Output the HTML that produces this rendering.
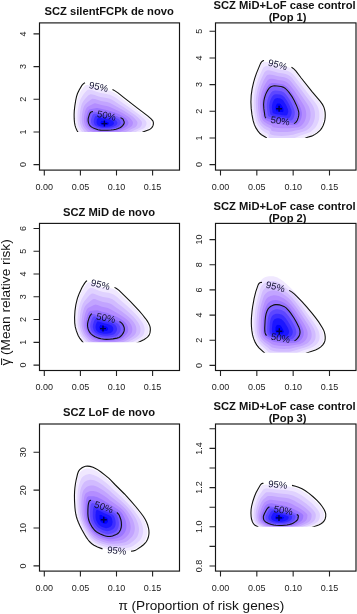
<!DOCTYPE html><html><head><meta charset="utf-8"><style>html,body{margin:0;padding:0;background:#fff;}svg{display:block;filter:blur(0.35px)}</style></head><body><svg width="357" height="614" viewBox="0 0 357 614">
<rect width="357" height="614" fill="#fff"/>
<defs><clipPath id="c0"><rect x="39.5" y="22.9" width="140" height="109"/></clipPath><clipPath id="c1"><rect x="215.5" y="22.9" width="140.5" height="115"/></clipPath><clipPath id="c2"><rect x="39.5" y="223.4" width="140" height="118.9"/></clipPath><clipPath id="c3"><rect x="215.5" y="223.4" width="140.5" height="129.4"/></clipPath><clipPath id="c4"><rect x="39.5" y="424" width="140" height="147.1"/></clipPath><clipPath id="c5"><rect x="215.5" y="424" width="140.5" height="102.8"/></clipPath><filter id="bm" x="-50%" y="-50%" width="200%" height="200%"><feGaussianBlur stdDeviation="0.6"/></filter><filter id="bl" x="-10%" y="-10%" width="120%" height="120%"><feGaussianBlur stdDeviation="0.55"/></filter></defs>
<g clip-path="url(#c0)">
<g filter="url(#bl)">
<path fill="#f0e8ff" d="M112 138.41L108 138.53 103 138.56 99 138.48 96 138.33 93 138.06 90 137.66 87.5 137.2 85.5 136.71 84 136.24 82.5 135.62 81.5 135.01 81 134.58 80.5 134.02 80.08 133.4 78.3 130.4 77.49 128.9 76.64 126.9 76.32 125.9 75.94 124.4 75.49 121.4 75.26 117.9 75.25 114.4 75.42 111.4 75.88 107.4 76.59 102.9 77.22 99.9 77.9 97.4 78.62 95.4 79.5 93.49 81 90.84 83 87.75 84.11 86.4 84.66 85.9 85.5 85.33 86 85.1 86.5 84.98 87 84.96 88 85.09 89.5 85.41 91.5 86.06 96 87.75 98.5 88.57 100.5 89.07 106.5 90.04 109 90.54 111.5 91.3 112.5 91.72 114 92.49 115.5 93.4 117.5 94.8 122.76 98.9 127.5 102.41 136.66 109.4 144.64 115.4 147.1 117.4 148.73 118.9 150.08 120.4 150.7 121.4 150.88 121.9 151.03 122.9 151.02 123.9 150.84 124.9 150.48 125.9 149.92 126.9 149.11 127.9 148.56 128.4 147.81 128.9 146.78 129.4 143 130.81 141.63 131.4 136.5 134.09 134.5 135.04 132.5 135.83 130.59 136.4 128.5 136.86 126 137.29 123.5 137.61 120.5 137.9 116 138.21 112 138.41Z"/>
<path fill="#e0d2ff" d="M114 136.9L110 137.07 106.5 137.15 102 137.15 98.5 137.05 96 136.89 93 136.57 90.5 136.18 88.5 135.76 87 135.36 85.5 134.86 84.45 134.4 83.5 133.8 83.04 133.4 82.5 132.77 79.93 128.9 78.94 126.9 78.27 124.9 77.77 122.4 77.46 119.4 77.39 116.4 77.53 113.4 77.94 109.9 78.59 105.9 79.14 103.4 79.72 101.4 80.5 99.37 81.5 97.42 83 95.11 85.39 91.9 86.5 90.71 87.5 89.99 88 89.74 88.5 89.59 89 89.56 90 89.68 91 89.89 92.5 90.34 96.5 91.8 99 92.62 101 93.12 106.5 94.02 108.5 94.43 110 94.85 111 95.21 113 96.15 114.5 97.03 116.5 98.37 120.68 101.4 126.5 105.43 139 114.47 140.78 115.9 143.64 118.4 145.1 119.9 145.87 120.9 146.16 121.4 146.36 121.9 146.47 122.4 146.51 123.4 146.38 124.4 146.06 125.4 145.83 125.9 145.2 126.9 144.25 127.9 143.53 128.4 142.52 128.9 138.5 130.52 133.91 132.9 131.81 133.9 130 134.61 128.5 135.08 125.5 135.75 122.5 136.2 119 136.57 114 136.9Z"/>
<path fill="#d1bbff" d="M115 135.42L111.5 135.61 107.5 135.73 103 135.75 100 135.69 97.5 135.56 95 135.33 93 135.05 91 134.66 89.5 134.3 88 133.84 86.86 133.4 85.93 132.9 85.28 132.4 84.78 131.9 82.83 129.4 82.12 128.4 81.53 127.4 81.05 126.4 80.35 124.4 79.85 121.9 79.6 119.4 79.56 116.9 79.72 114.4 80.12 111.4 80.75 107.9 81.23 105.9 81.71 104.4 82.35 102.9 83 101.73 84 100.3 85 99.08 87.5 96.33 88.5 95.35 89.06 94.9 89.94 94.4 90.5 94.21 91 94.16 91.5 94.2 92.5 94.38 94 94.79 98 96.19 100.5 96.94 102 97.26 106.5 98.01 109 98.59 110.5 99.1 112 99.8 114.5 101.25 118.56 103.9 123.5 107 135.08 114.9 136.96 116.4 139.62 118.9 140.96 120.4 141.63 121.4 141.84 121.9 141.99 122.9 141.92 123.9 141.65 124.9 141.17 125.9 140.45 126.9 139.94 127.4 139 128.03 138.28 128.4 134.78 129.9 129.93 132.4 128 133.22 126.5 133.73 124 134.35 121.5 134.78 118.5 135.14 115 135.42Z"/>
<path fill="#c2a4ff" d="M115.5 133.94L110.5 134.24 106 134.35 100.5 134.3 97 134.07 95 133.82 93.5 133.56 92 133.22 90.5 132.81 89.33 132.4 88.26 131.9 87.51 131.4 86.95 130.9 84.5 128.16 83.65 126.9 83.13 125.9 82.56 124.4 82.18 122.9 81.86 120.9 81.73 119.4 81.73 117.4 81.95 114.9 82.56 111.4 83.12 108.9 83.59 107.4 84.26 105.9 85 104.76 86 103.64 87.5 102.31 91 99.53 92 98.99 92.5 98.83 93 98.77 94 98.88 95 99.1 99.5 100.57 101 100.99 107 102.1 108.5 102.47 109.5 102.8 110.5 103.21 112 103.94 120.5 108.65 124.5 111.08 131.21 115.4 132.61 116.4 133.69 117.4 136.04 119.9 136.8 120.9 137.1 121.4 137.33 121.9 137.45 122.4 137.48 122.9 137.36 123.9 137.22 124.4 136.79 125.4 136.48 125.9 135.63 126.9 134.97 127.4 134.05 127.9 131.5 129.08 127.5 131.14 126 131.81 124.5 132.37 122.6 132.9 120.5 133.33 118 133.69 115.5 133.94Z"/>
<path fill="#b38dff" d="M108 132.92L102.5 132.94 99 132.8 96 132.43 93.52 131.9 91.5 131.27 90.64 130.9 89.76 130.4 89 129.82 88 128.93 86.48 127.4 85.75 126.4 85.2 125.4 84.78 124.4 84.5 123.5 84.23 122.4 83.98 120.9 83.89 119.9 83.88 118.4 83.99 116.9 84.31 114.9 84.97 111.9 85.39 110.4 85.77 109.4 86.29 108.4 87 107.47 87.5 107.01 89 106.03 93 104 94 103.57 95 103.36 96 103.48 97 103.71 101.5 105.05 106.5 105.99 108.5 106.5 111 107.49 118.5 110.91 122.5 113.09 127.26 115.9 128.8 116.9 129.5 117.46 131.6 119.9 132.61 121.4 132.83 121.9 132.96 122.4 132.98 122.9 132.8 123.9 132.4 124.9 132.11 125.4 131.5 126.19 130.7 126.9 129.86 127.4 125 129.93 123 130.79 121.5 131.32 120 131.72 118 132.12 116 132.41 113.5 132.65 108 132.92Z"/>
<path fill="#9b76ff" d="M110.5 131.41L107 131.53 102 131.52 99.5 131.39 97 131.04 94.5 130.41 92.5 129.65 91 128.77 90 128.06 89 127.23 88.5 126.73 87.83 125.9 87.01 124.4 86.65 123.4 86.38 122.4 86.1 120.9 86.02 119.9 86.04 118.9 86.21 117.4 86.5 115.96 87 114.01 87.68 111.9 88 111.21 88.54 110.4 89 109.93 89.5 109.59 90.5 109.16 91.5 108.9 96.5 107.98 97.5 108 98.5 108.19 102 109.1 107.5 110.22 113.5 112.05 115.5 112.72 118.5 114.02 122 115.78 124.91 117.4 125.66 117.9 126.23 118.4 127.91 120.9 128.37 121.9 128.48 122.4 128.49 122.9 128.4 123.4 128.02 124.4 127.4 125.4 126.99 125.9 126.44 126.4 124.9 127.4 122.5 128.72 120.97 129.4 119 130.11 117 130.63 115 130.99 112.5 131.28 110.5 131.41Z"/>
<path fill="#7c5fff" d="M111.5 129.91L108 130.15 103 130.18 100.5 130.06 98.5 129.77 96.5 129.25 94.5 128.52 92.5 127.55 91.5 126.93 90.82 126.4 89.9 125.4 89.55 124.9 89.03 123.9 88.5 122.29 88.32 121.4 88.21 120.4 88.31 118.9 88.59 117.4 89.53 114.4 89.98 113.4 90.5 112.65 91 112.2 91.5 111.94 92 111.78 93 111.66 94 111.69 98 112.2 98.92 112.4 100.5 112.6 101.66 112.9 103 113.1 104.1 113.4 105.5 113.61 107 113.95 109.5 114.22 112.5 114.67 114.5 115.2 117 116.13 120.5 117.72 121.78 118.4 122.53 118.9 122.95 119.4 123.67 120.9 124.02 121.9 124.1 122.4 124.08 122.9 123.73 123.9 123.12 124.9 122.27 125.9 121.5 126.59 120.25 127.4 119 128.02 117.5 128.61 116 129.09 114 129.57 111.5 129.91Z"/>
<path fill="#5d47ff" d="M109.5 128.92L106.5 129.05 103 129.05 101 128.94 99.5 128.72 97.5 128.17 95.53 127.4 94 126.58 93.07 125.9 92.57 125.4 92.19 124.9 91.64 123.9 91.15 122.4 90.92 120.9 91.04 119.4 91.41 117.9 91.88 116.4 92.26 115.4 92.53 114.9 92.92 114.4 93.5 113.98 94 113.8 95 113.69 96 113.74 100.5 114.39 106.5 115.56 111 116.18 113 116.7 115.5 117.67 118.5 119.08 119.07 119.4 119.69 119.9 120.64 121.9 120.76 122.4 120.77 122.9 120.66 123.4 120.15 124.4 119.36 125.4 118.84 125.9 118.17 126.4 117.31 126.9 116.22 127.4 114.86 127.9 113.5 128.29 112 128.62 109.5 128.92Z"/>
<path fill="#3e2fff" d="M107 127.92L102.5 127.92 100.5 127.69 99 127.28 97.5 126.71 96 125.92 95.32 125.4 94.85 124.9 94.25 123.9 93.77 122.4 93.65 121.4 93.72 120.4 94 119.17 94.57 117.4 94.8 116.9 95.12 116.4 95.5 116.05 96 115.81 96.5 115.72 97.5 115.72 101 116.2 106 117.17 110 117.75 112 118.36 114.45 119.4 116.33 120.4 116.75 120.9 117.4 122.4 117.47 122.9 117.39 123.4 116.86 124.4 116.46 124.9 115.96 125.4 115.5 125.75 115 126.06 114 126.56 113 126.94 111.5 127.39 109.5 127.74 107 127.92Z"/>
<path fill="#1f18ff" d="M109.5 126.43L107.5 126.71 106 126.81 104 126.82 102.5 126.75 100.5 126.36 99.28 125.9 98.32 125.4 97.63 124.9 97.21 124.4 96.72 123.4 96.47 122.4 96.44 121.9 96.54 120.9 97 119.33 97.43 118.4 98 117.89 98.5 117.79 99.5 117.8 101.5 118.07 105 118.76 108 119.19 109.09 119.4 110.5 119.9 112 120.56 113 121.09 113.43 121.4 114 122.65 114.06 122.9 114.03 123.4 113.82 123.9 113.48 124.4 113 124.9 112.31 125.4 111.26 125.9 109.5 126.43Z"/>
<path fill="#0000ff" d="M107 125L105.5 125.19 103.5 125.19 103 125.12 102.22 124.9 101.2 124.4 100.74 123.9 100.52 123.4 100.42 122.9 100.44 122.4 100.56 121.9 100.72 121.4 100.99 120.9 101.5 120.69 102 120.7 106.5 121.44 107.81 121.9 108.8 122.4 109.12 122.9 109.24 123.4 109.01 123.9 108.5 124.41 107.5 124.87 107 125Z"/>
</g>
<path d="M101.4 123.6h6M104.4 120.6v6" stroke="#000050" stroke-width="1.4" filter="url(#bm)"/>
<path fill="none" stroke="#111" stroke-width="1.1" d="M112.5 89.57L115 90.86 118 92.91 123.58 97.4 137.75 108.4 147.64 115.9 151.11 118.9 152.8 120.9 153.23 121.9 153.38 122.9 153.39 123.9 153.07 125.4 152.36 126.9 151.61 127.9 150.46 128.9 149.58 129.4 143.5 131.75 137.47 134.9 134.5 136.2 132.5 136.86 130.26 137.4 124.5 138.28 118 138.83 110.5 139.2 103 139.29 96.5 139.1 91.5 138.66 87 137.94 83.06 136.9 80.83 135.9 80 135.26 79.25 134.4 77 130.42 75.82 127.9 75.02 125.4 74.48 122.4 74.19 118.9 74.11 114.4 74.28 110.9 74.83 105.9 75.7 100.4 76.5 96.69 77.5 93.53 79.19 89.9 81.88 85.4 83.5 83.56 85 82.67M120.5 117.61L122.5 118.74 123.1 119.4 124.19 121.9 124.25 122.9 123.88 123.9 122.89 125.4 121.5 126.72 120 127.64 117.5 128.7 116 129.17 113.5 129.73 111 130.03 107.5 130.22 102.5 130.23 100.5 130.12 98 129.74 94.5 128.6 92.5 127.64 91.33 126.9 90.19 125.9 89.5 124.98 88.93 123.9 88.5 122.66 88.14 120.9 88.19 118.9 88.5 117.32 89.5 114.17 90.15 112.9 91 112.06 92 111.67 93 111.57"/>
</g>
<text x="0" y="0" transform="translate(98.7 86.6) rotate(12)" text-anchor="middle" dy="3.4" font-size="9.6" fill="#101030" class="lab" font-family='"Liberation Sans", sans-serif'>95%</text>
<text x="0" y="0" transform="translate(106.5 115.4) rotate(12)" text-anchor="middle" dy="3.4" font-size="9.6" fill="#101030" class="lab" font-family='"Liberation Sans", sans-serif'>50%</text>
<rect x="39.5" y="22.9" width="140" height="147.2" fill="none" stroke="#151515" stroke-width="1.15"/>
<text x="44.3" y="189.8" text-anchor="middle" font-size="9" fill="#222" font-family='"Liberation Sans", sans-serif'>0.00</text>
<text x="80.4" y="189.8" text-anchor="middle" font-size="9" fill="#222" font-family='"Liberation Sans", sans-serif'>0.05</text>
<text x="116.5" y="189.8" text-anchor="middle" font-size="9" fill="#222" font-family='"Liberation Sans", sans-serif'>0.10</text>
<text x="152.6" y="189.8" text-anchor="middle" font-size="9" fill="#222" font-family='"Liberation Sans", sans-serif'>0.15</text>
<text x="0" y="0" transform="translate(25.6 164.6) rotate(-90)" text-anchor="middle" font-size="9" fill="#222" font-family='"Liberation Sans", sans-serif'>0</text>
<text x="0" y="0" transform="translate(25.6 131.93) rotate(-90)" text-anchor="middle" font-size="9" fill="#222" font-family='"Liberation Sans", sans-serif'>1</text>
<text x="0" y="0" transform="translate(25.6 99.25) rotate(-90)" text-anchor="middle" font-size="9" fill="#222" font-family='"Liberation Sans", sans-serif'>2</text>
<text x="0" y="0" transform="translate(25.6 66.58) rotate(-90)" text-anchor="middle" font-size="9" fill="#222" font-family='"Liberation Sans", sans-serif'>3</text>
<text x="0" y="0" transform="translate(25.6 33.9) rotate(-90)" text-anchor="middle" font-size="9" fill="#222" font-family='"Liberation Sans", sans-serif'>4</text>
<path fill="none" stroke="#222" stroke-width="1.1" d="M44.3 170.1v5.5M80.4 170.1v5.5M116.5 170.1v5.5M152.6 170.1v5.5M39.5 164.6h-6M39.5 131.93h-6M39.5 99.25h-6M39.5 66.58h-6M39.5 33.9h-6"/>
<text x="109.2" y="15.1" text-anchor="middle" font-size="11.2" font-weight="bold" fill="#111" font-family='"Liberation Sans", sans-serif'>SCZ silentFCPk de novo</text>
<g clip-path="url(#c1)">
<g filter="url(#bl)">
<path fill="#f0e8ff" d="M285 143.43L282.5 143.61 280 143.68 278 143.62 275.5 143.42 273 143.07 271 142.66 269 142.03 268 141.51 267.5 140.85 267.4 139.9 267.49 138.4 267.43 137.9 267.23 137.4 267 137.04 266.5 136.56 266 136.19 262.84 134.4 261.5 133.53 260.5 132.67 259 130.98 257.45 128.9 256.51 127.4 255.97 126.4 254.86 123.9 254.35 122.4 253.93 120.9 253.16 117.4 252.49 113.4 251.95 108.9 251.68 104.9 251.61 101.4 251.76 97.4 252.1 93.9 252.62 90.4 253.43 86.4 254.58 81.9 256 77.3 257.61 72.9 259.34 68.9 260.5 66.03 261.3 64.4 261.97 63.4 262.5 62.86 263.15 62.4 264 62.02 264.54 61.9 265.5 61.83 266.5 61.93 267.5 62.11 270 62.83 275 64.61 277.5 65.37 279.5 65.8 285.5 66.69 288 67.23 289.5 67.71 290.5 68.13 291.5 68.66 293 69.72 294.5 71.11 296 72.83 300.18 78.4 304 83.12 311.5 92.66 317.99 100.4 319.57 102.4 320.94 104.4 321.79 105.9 322.44 107.4 323.03 109.4 323.39 110.9 323.56 111.9 323.72 113.4 323.76 114.9 323.69 116.9 323.56 118.4 323.35 119.9 323.03 121.4 322.57 122.9 322 124.37 320.77 126.9 320.17 127.9 319.46 128.9 318.62 129.9 317.5 131.01 316.45 131.9 315 132.97 313.57 133.9 312 134.77 310.47 135.4 307 136.41 305 137.12 303.27 137.9 299 140.1 296.5 141.19 294.5 141.84 291.5 142.51 288.5 143.01 285 143.43Z"/>
<path fill="#e0d2ff" d="M286.5 139.44L284 139.65 281.5 139.77 279.5 139.78 277 139.65 274.5 139.37 272.5 139.02 271 138.65 269.5 138.09 269 137.73 268.82 137.4 268.69 136.9 268.59 134.9 268.5 134.6 268.36 134.4 268 134 267.13 133.4 264.29 131.9 263 131.1 262 130.27 260.68 128.9 259 126.85 257.74 124.9 256.76 122.9 256.07 120.9 255.37 117.9 254.67 113.9 254.14 109.9 253.8 105.9 253.7 102.4 253.81 98.9 254.07 95.9 254.57 92.4 255.38 88.4 256.5 84.14 258 79.53 259.5 75.66 262.09 69.9 263 68.18 263.5 67.51 264 67.02 264.5 66.66 265.5 66.22 266 66.12 267 66.08 268.5 66.27 270.5 66.77 275.5 68.4 278 69.09 279.5 69.38 284.5 70.14 286.5 70.56 288 71 289.03 71.4 290.5 72.17 291.53 72.9 293 74.22 294.5 75.91 298 80.56 303 86.88 308.74 94.4 315.11 102.4 316.5 104.4 317.36 105.9 318.04 107.4 318.52 108.9 319.1 111.4 319.35 113.9 319.28 116.9 319.13 118.4 318.86 119.9 318.5 121.24 318.1 122.4 317.48 123.9 316.74 125.4 316.14 126.4 315.44 127.4 314 129.01 312.5 130.33 311.08 131.4 309.5 132.41 308 133.12 302.32 134.9 300.5 135.61 296.5 137.31 294 138.18 292.5 138.54 290.5 138.91 286.5 139.44Z"/>
<path fill="#d1bbff" d="M281.5 135.9L278.5 135.85 275 135.51 272.5 135.05 271.5 134.78 270.5 134.37 270 133.86 269.76 131.9 269.5 131.45 269 131.06 268.5 130.76 265.5 129.28 264.11 128.4 263 127.45 262 126.49 260.57 124.9 259.5 123.42 258.67 121.9 258.09 120.4 257.7 118.9 256.94 114.9 256.41 111.4 256.02 107.9 255.83 104.9 255.8 101.9 255.95 98.9 256.29 95.9 256.79 92.9 257.71 88.9 258.73 85.4 260 81.8 261.5 78.21 263.85 73.4 264.5 72.29 265 71.65 265.5 71.17 266 70.83 267 70.43 267.5 70.34 268.5 70.32 270 70.52 272 71 276.5 72.32 278 72.69 283.5 73.58 285.5 74 287 74.46 288.09 74.9 289.5 75.69 290.5 76.43 292 77.85 293.72 79.9 296.35 83.4 300.63 88.9 306.15 96.4 311.05 102.9 312.37 104.9 313.19 106.4 313.82 107.9 314.53 110.4 314.73 111.4 314.91 112.9 314.97 114.4 314.95 115.9 314.82 117.4 314.67 118.4 314.46 119.4 314 120.9 313.42 122.4 312.97 123.4 312.44 124.4 311.81 125.4 311.04 126.4 310.12 127.4 309.06 128.4 308 129.27 306.37 130.4 305.5 130.85 304.5 131.24 298.65 132.9 294.5 134.27 293 134.71 291 135.12 288 135.51 284.5 135.79 281.5 135.9Z"/>
<path fill="#c2a4ff" d="M287 131.9L282 132.04 278.5 131.95 276.5 131.77 274.5 131.5 273 131.2 272 130.9 271.5 130.64 271.33 130.4 271 128.97 270.5 128.46 269.5 127.94 267 126.84 266 126.29 264.5 125.2 263 123.91 262 122.88 261 121.59 260.34 120.4 259.96 119.4 259.49 117.4 258.65 112.4 258.2 108.9 257.95 105.9 257.88 103.4 257.96 100.9 258.19 98.4 258.64 95.4 259.28 92.4 260.25 88.9 261.49 85.4 262.75 82.4 263.5 80.85 265 78.06 266 76.39 266.5 75.78 267 75.33 267.5 75.01 268 74.79 268.5 74.64 269.5 74.54 271 74.66 273 75.06 278 76.29 282.5 77.01 284 77.31 285.5 77.73 287 78.33 288 78.88 289 79.58 290.5 80.96 292 82.69 297 89.23 299.33 92.4 307.34 103.9 308.78 106.4 309.23 107.4 309.59 108.4 310.26 110.9 310.54 112.9 310.59 115.4 310.46 116.9 310.29 117.9 310.05 118.9 309.56 120.4 308.71 122.4 308.16 123.4 307.5 124.38 306.22 125.9 304.63 127.4 303.5 128.25 302.28 128.9 301 129.35 299.5 129.73 295.5 130.51 291.5 131.42 289.5 131.71 287 131.9Z"/>
<path fill="#b38dff" d="M292 127.91L290 128.17 288 128.3 285 128.31 281.5 128.21 278.5 128.04 276.5 127.85 274.5 127.57 273 127.21 272.5 126.9 272 125.82 271.5 125.55 268 124.18 266.5 123.34 265 122.33 264 121.53 263 120.51 262.5 119.82 262.02 118.9 261.58 117.4 260.76 112.4 260.28 108.9 260.05 106.4 259.96 103.9 260.03 101.9 260.27 99.4 260.58 97.4 261.1 94.9 261.92 91.9 262.98 88.9 264 86.49 265.32 83.9 267 81.15 267.5 80.46 268 79.9 268.5 79.49 269 79.19 269.5 78.98 270.5 78.78 272 78.79 274 79.09 278 79.9 282 80.52 283.5 80.85 285 81.34 286.5 82.07 287.5 82.74 289 84.07 290.5 85.76 294 90.34 295.86 92.9 298.24 96.4 302.08 102.4 303.58 104.9 304.37 106.4 305.2 108.4 305.79 110.4 306.14 112.4 306.25 114.4 306.17 115.9 305.79 117.9 305.15 119.9 304.73 120.9 304.22 121.9 303.24 123.4 301.98 124.9 300.92 125.9 300.21 126.4 299.5 126.78 298.5 127.14 297 127.46 292 127.91Z"/>
<path fill="#9b76ff" d="M296 124.94L295 125.11 294 125.17 290.5 124.99 287 124.93 277.5 124.04 274.5 123.66 274 123.54 273.5 123.15 273 122.87 271 122.32 269.5 121.81 267 120.69 265.5 119.75 264.57 118.9 264.19 118.4 263.71 117.4 263.46 116.4 262.56 110.4 262.2 107.4 262.07 105.4 262.07 103.4 262.23 101.4 262.51 99.4 263.03 96.9 263.72 94.4 264.5 92.21 265.5 89.93 266.57 87.9 268 85.72 269 84.49 269.5 84.01 270 83.64 271 83.18 272 82.98 273 82.93 274.5 83.02 281.5 84.02 283.5 84.57 285 85.25 286 85.89 287 86.71 288 87.7 289 88.83 292.1 92.9 294.8 96.9 296.3 99.4 298.25 102.9 299.28 104.9 300.21 106.9 300.81 108.4 301.43 110.4 301.75 111.9 301.91 113.4 301.89 114.9 301.57 116.9 300.98 118.9 300.58 119.9 300.09 120.9 299.18 122.4 298.5 123.27 298 123.8 297.5 124.22 297 124.54 296 124.94Z"/>
<path fill="#7c5fff" d="M294 122.54L293 122.78 291.5 122.76 288.5 122.29 285.5 121.91 280 120.94 275 120.42 273 120.13 270.5 119.5 268.5 118.82 267.63 118.4 267 118.01 266.5 117.59 266 116.98 265.71 116.4 265.46 115.4 265.22 113.4 264.61 109.4 264.33 106.9 264.26 105.4 264.28 103.9 264.41 102.4 264.63 100.9 265.04 98.9 265.59 96.9 266.31 94.9 267 93.35 268 91.48 269 89.96 270 88.77 271 87.9 271.5 87.59 272.5 87.18 273.5 86.97 275 86.9 276.5 86.99 280 87.35 281.5 87.64 283 88.14 284.5 88.96 285.5 89.74 286.5 90.7 287.5 91.81 288.5 93.04 291 96.55 292.17 98.4 293.3 100.4 294.31 102.4 295.23 104.4 297.16 109.4 297.6 110.9 297.88 112.4 297.94 113.9 297.77 115.4 297.3 117.4 296.78 118.9 296.08 120.4 295.42 121.4 294.99 121.9 294.5 122.29 294 122.54Z"/>
<path fill="#5d47ff" d="M291 120.4L290 120.47 289 120.37 287 120.05 284.5 119.73 280 118.94 275.5 118.46 274 118.23 271.5 117.58 270 117.02 268.92 116.4 268.39 115.9 268.06 115.4 267.76 114.4 266.97 108.9 266.78 106.9 266.73 105.4 266.77 104.4 267.1 101.9 267.5 100.11 268 98.4 268.58 96.9 269.29 95.4 270.14 93.9 271 92.7 271.74 91.9 272.5 91.29 273 91.01 274 90.69 275 90.57 276 90.57 280 90.96 281.5 91.28 282.5 91.65 283.5 92.2 284 92.56 285.5 93.97 286.5 95.13 287.48 96.4 289.54 99.4 291.24 102.4 292.86 105.9 293.83 108.4 294.34 109.9 294.69 111.4 294.8 112.4 294.77 113.4 294.53 114.9 294.12 116.4 293.53 117.9 292.98 118.9 292.5 119.53 292 119.99 291.5 120.25 291 120.4Z"/>
<path fill="#3e2fff" d="M289 117.96L288.5 118.09 288 118.13 287 118.05 283.5 117.55 280 116.93 276 116.5 275 116.34 273.28 115.9 272 115.46 271 114.91 270.48 114.4 270.2 113.9 270.05 113.4 269.29 107.9 269.21 105.9 269.27 104.9 269.49 103.4 269.81 101.9 270.26 100.4 270.64 99.4 271.35 97.9 272 96.79 272.65 95.9 273.5 95.03 274 94.69 274.5 94.46 275.5 94.24 277 94.24 280 94.56 281 94.79 282 95.17 283.12 95.9 284.5 97.25 285.81 98.9 287.2 100.9 288.66 103.4 289.86 105.9 291.2 109.4 291.47 110.4 291.63 111.4 291.64 112.4 291.5 113.4 291.26 114.4 290.93 115.4 290.48 116.4 290 117.16 289.5 117.67 289 117.96Z"/>
<path fill="#1f18ff" d="M286.5 115.45L286 115.6 285 115.59 282 115.16 279.5 114.72 276 114.3 274 113.72 273.36 113.4 272.78 112.9 272.53 112.4 272.43 111.9 271.94 108.4 271.85 106.9 272 105.18 272.5 103.02 273.13 101.4 274 99.84 274.5 99.2 275 98.71 275.5 98.39 276 98.21 277 98.11 279.5 98.33 280.5 98.53 281 98.71 281.5 98.96 282 99.31 282.5 99.75 283.5 100.87 284.63 102.4 285.87 104.4 286.86 106.4 287.85 108.9 288.25 110.4 288.3 110.9 288.23 111.9 287.85 113.4 287.5 114.24 287.1 114.9 286.5 115.45Z"/>
<path fill="#0000ff" d="M283 111.96L282.5 112.19 282 112.18 279.5 111.79 278 111.62 276.97 111.4 276.5 111.23 275.98 110.9 275.77 110.4 275.5 108.4 275.48 107.9 275.56 106.9 275.8 105.9 276 105.36 276.5 104.4 277 103.8 277.5 103.52 278 103.45 279.5 103.6 280 103.74 280.5 104.02 281 104.48 281.5 105.09 282.06 105.9 282.64 106.9 283.11 107.9 283.64 109.4 283.7 109.9 283.54 110.9 283.36 111.4 283 111.96Z"/>
</g>
<path d="M276.1 108.8h6M279.1 105.8v6" stroke="#000050" stroke-width="1.4" filter="url(#bm)"/>
<path fill="none" stroke="#111" stroke-width="1.1" d="M291.5 67.28L293.81 68.9 296 71.16 301 77.76 312 91.53 320.31 101.4 322.45 104.4 323.53 106.4 324.1 107.9 324.77 110.4 325.12 112.4 325.26 114.9 325.16 117.4 324.87 119.9 324.44 121.9 323.16 125.4 321.54 128.4 320.5 129.83 319.53 130.9 317.2 132.9 315 134.39 313 135.5 311.5 136.11 307.5 137.27 305.81 137.9 299.5 141.2 297.5 142.13 295 143 291.5 143.81 287.5 144.45 283.5 144.86 280 145 277 144.89 274 144.57 271 144.01 269 143.43 267.5 142.65 267 141.79 267.02 138.9 266.5 137.9 265.24 136.9 261.5 134.72 260 133.51 257.82 130.9 255.89 127.9 254.27 124.4 253.08 120.4 251.92 114.4 251.2 108.4 250.9 101.9 251.19 95.4 252.11 88.9 253.58 82.4 254.88 77.9 256.42 73.4 260.32 63.9 261 62.63 262 61.44 263 60.78 264 60.47M266 118.07L265.5 117.51 265.16 116.9 264.88 115.9 263.88 108.9 263.57 104.4 263.91 100.9 264.5 97.99 265.46 94.9 266.5 92.5 267.65 90.4 269 88.48 270.5 87 271.5 86.42 273 85.98 274.5 85.87 277 86.03 281 86.52 283 87.1 285 88.2 287 90.01 289.4 92.9 292.17 96.9 294.19 100.4 296.31 104.9 297.86 108.9 298.7 111.9 298.86 113.4 298.72 115.4 298.29 117.4 297.4 119.9 296.26 121.9 295.24 122.9 293.89 123.4"/>
</g>
<text x="0" y="0" transform="translate(277.7 64.6) rotate(14)" text-anchor="middle" dy="3.4" font-size="9.6" fill="#101030" class="lab" font-family='"Liberation Sans", sans-serif'>95%</text>
<text x="0" y="0" transform="translate(280.1 120.7) rotate(8)" text-anchor="middle" dy="3.4" font-size="9.6" fill="#101030" class="lab" font-family='"Liberation Sans", sans-serif'>50%</text>
<rect x="215.5" y="22.9" width="140.5" height="147.2" fill="none" stroke="#151515" stroke-width="1.15"/>
<text x="220.5" y="189.8" text-anchor="middle" font-size="9" fill="#222" font-family='"Liberation Sans", sans-serif'>0.00</text>
<text x="256.83" y="189.8" text-anchor="middle" font-size="9" fill="#222" font-family='"Liberation Sans", sans-serif'>0.05</text>
<text x="293.16" y="189.8" text-anchor="middle" font-size="9" fill="#222" font-family='"Liberation Sans", sans-serif'>0.10</text>
<text x="329.49" y="189.8" text-anchor="middle" font-size="9" fill="#222" font-family='"Liberation Sans", sans-serif'>0.15</text>
<text x="0" y="0" transform="translate(201.6 164.6) rotate(-90)" text-anchor="middle" font-size="9" fill="#222" font-family='"Liberation Sans", sans-serif'>0</text>
<text x="0" y="0" transform="translate(201.6 137.94) rotate(-90)" text-anchor="middle" font-size="9" fill="#222" font-family='"Liberation Sans", sans-serif'>1</text>
<text x="0" y="0" transform="translate(201.6 111.28) rotate(-90)" text-anchor="middle" font-size="9" fill="#222" font-family='"Liberation Sans", sans-serif'>2</text>
<text x="0" y="0" transform="translate(201.6 84.62) rotate(-90)" text-anchor="middle" font-size="9" fill="#222" font-family='"Liberation Sans", sans-serif'>3</text>
<text x="0" y="0" transform="translate(201.6 57.96) rotate(-90)" text-anchor="middle" font-size="9" fill="#222" font-family='"Liberation Sans", sans-serif'>4</text>
<text x="0" y="0" transform="translate(201.6 31.3) rotate(-90)" text-anchor="middle" font-size="9" fill="#222" font-family='"Liberation Sans", sans-serif'>5</text>
<path fill="none" stroke="#222" stroke-width="1.1" d="M220.5 170.1v5.5M256.83 170.1v5.5M293.16 170.1v5.5M329.49 170.1v5.5M215.5 164.6h-6M215.5 137.94h-6M215.5 111.28h-6M215.5 84.62h-6M215.5 57.96h-6M215.5 31.3h-6"/>
<text x="284.6" y="9" text-anchor="middle" font-size="11.2" font-weight="bold" fill="#111" font-family='"Liberation Sans", sans-serif'>SCZ MiD+LoF case control</text>
<text x="287.6" y="21.1" text-anchor="middle" font-size="11.2" font-weight="bold" fill="#111" font-family='"Liberation Sans", sans-serif'>(Pop 1)</text>
<g clip-path="url(#c2)">
<g filter="url(#bl)">
<path fill="#f0e8ff" d="M114.5 348.93L110.5 349.24 107 349.35 104 349.28 101 349.05 97.5 348.58 94 347.92 90.5 347.03 88 346.18 86.53 345.4 85.5 344.52 84.98 343.9 83.64 341.9 81 338.71 80.08 337.4 79.22 335.9 78.5 334.38 77.68 332.4 76.66 329.4 76.04 326.9 75.6 323.9 75.41 320.9 75.43 316.9 75.73 312.4 76.22 308.4 76.95 304.4 77.82 300.9 78.99 297.4 80.5 293.86 82 290.85 83.97 287.4 85.5 285.14 86.5 283.91 87 283.4 88 282.58 88.5 282.33 89 282.25 89.5 282.28 91 282.61 92 282.89 93.5 283.48 98 285.42 99.5 285.97 101 286.43 103 286.88 109.5 287.98 112 288.58 113.5 289.08 114.5 289.52 116 290.37 117 291.06 118.06 291.9 119.5 293.19 123.22 296.9 129.5 302.83 134 307.37 138.23 311.9 141.7 315.9 144.81 319.9 145.85 321.4 146.77 322.9 147.3 323.9 147.95 325.4 148.28 326.4 148.53 327.4 148.71 328.9 148.71 329.9 148.62 330.9 148.28 332.9 147.76 334.4 147 335.67 146.39 336.4 145.88 336.9 144.63 337.9 143.11 338.9 141.36 339.9 133.62 343.9 131 345.16 128.5 346.18 125.5 347.13 122.5 347.8 119 348.39 114.5 348.93Z"/>
<path fill="#e0d2ff" d="M112.5 347.41L109.5 347.6 106.5 347.66 103.5 347.55 101 347.33 97 346.73 94 346.1 91 345.27 89 344.52 87.9 343.9 87 343.16 86.35 342.4 85.27 340.9 82.5 337.66 81.62 336.4 81.04 335.4 80.3 333.9 79.46 331.9 78.61 329.4 77.99 326.9 77.61 324.4 77.44 321.4 77.51 317.9 77.83 313.9 78.39 309.9 79.1 306.4 79.76 303.9 80.5 301.7 81.49 299.4 82.5 297.52 85 293.59 87 290.82 88.5 289.12 89.35 288.4 90 287.99 90.5 287.85 91 287.86 93 288.31 94.5 288.87 99 290.76 101.5 291.57 103 291.9 108.5 292.86 111 293.45 113 294.19 114 294.71 115.1 295.4 116.44 296.4 117.5 297.3 120.84 300.4 127 305.8 131.5 310.03 135.5 314.02 138.5 317.32 140.93 320.4 142.6 322.9 143.39 324.4 143.83 325.4 144.17 326.4 144.43 327.4 144.62 328.9 144.61 329.9 144.52 330.9 144.37 331.9 144.14 332.9 143.77 333.9 143.52 334.4 142.84 335.4 141.89 336.4 140.63 337.4 139.13 338.4 137.44 339.4 131.5 342.64 129 343.86 126.5 344.85 123.5 345.75 120.5 346.38 117 346.93 112.5 347.41Z"/>
<path fill="#d1bbff" d="M109.5 345.91L107 345.97 104.5 345.91 102 345.72 99.5 345.39 96.5 344.85 94 344.25 91.5 343.47 90 342.84 89 342.21 88.11 341.4 86.9 339.9 85 337.83 83.84 336.4 83 335.14 82.33 333.9 81.5 332.06 80.87 330.4 80.15 327.9 79.69 325.4 79.49 322.9 79.5 320.4 79.75 316.9 80.22 313.4 80.88 309.9 81.67 306.9 82.36 304.9 83 303.46 83.58 302.4 84.5 301.04 87.5 297.48 89.5 295.26 90.44 294.4 91 293.98 91.5 293.66 92 293.46 92.5 293.43 93 293.51 94.5 293.89 99 295.72 101.5 296.56 103 296.91 108 297.84 110 298.33 111 298.67 112 299.1 113 299.64 114 300.29 115.5 301.42 118.44 303.9 122.5 307.08 125.5 309.56 130 313.48 133.5 316.78 134.57 317.9 135.87 319.4 137.76 321.9 138.71 323.4 139.25 324.4 140.07 326.4 140.33 327.4 140.49 328.4 140.52 329.9 140.26 331.9 139.78 333.4 139.23 334.4 138.42 335.4 137.32 336.4 135.22 337.9 132.78 339.4 128.5 341.84 126.2 342.9 124 343.69 121 344.47 117.5 345.11 113.5 345.62 109.5 345.91Z"/>
<path fill="#c2a4ff" d="M113.5 343.91L110.5 344.18 107.5 344.29 105 344.25 102.5 344.06 100 343.73 97 343.15 94.5 342.51 92.5 341.84 91 341.14 90 340.43 86.6 336.9 85.74 335.9 85.01 334.9 84.4 333.9 83.64 332.4 82.83 330.4 82.09 327.9 81.71 325.9 81.51 323.4 81.57 320.9 81.87 317.9 82.5 314.11 83.26 310.9 83.88 308.9 84.5 307.35 85.29 305.9 86 304.95 87 303.97 91.5 300.31 92.5 299.59 93 299.31 93.5 299.09 94 299.02 95.5 299.32 96.5 299.65 100 301.05 101.5 301.55 103 301.93 107.5 302.82 109 303.21 110.5 303.77 112 304.56 113 305.21 116 307.4 121.5 311.22 126 314.63 129.37 317.4 131 318.93 132.76 320.9 134.22 322.9 135.35 324.9 135.96 326.4 136.33 327.9 136.44 329.4 136.24 331.4 135.79 332.9 135.26 333.9 134.46 334.9 133.39 335.9 131.42 337.4 128.38 339.4 126.5 340.52 124.5 341.47 122.5 342.2 120 342.86 117 343.43 113.5 343.91Z"/>
<path fill="#b38dff" d="M111.5 342.41L109 342.58 107 342.62 105 342.56 103 342.4 101 342.14 98.5 341.68 96.5 341.2 94.5 340.57 93.5 340.19 92.5 339.72 91.29 338.9 88.13 335.9 87.25 334.9 86.52 333.9 85.66 332.4 84.98 330.9 84.44 329.4 84.03 327.9 83.73 326.4 83.57 324.9 83.53 323.4 83.6 321.9 83.91 319.4 84.37 316.9 84.95 314.4 85.55 312.4 86.11 310.9 86.87 309.4 87.5 308.54 88 308.05 88.5 307.69 89.5 307.18 91.5 306.36 94 305.09 95 304.7 95.5 304.6 96 304.65 97.5 305.06 100 306.02 102 306.69 107 307.82 108.9 308.4 110.5 309.14 114 311.2 117.5 313.14 121.5 315.65 124.5 317.67 126.5 319.18 127.88 320.4 129.25 321.9 130.35 323.4 131.21 324.9 131.84 326.4 132.24 327.9 132.35 329.4 132.21 330.9 131.81 332.4 131.5 333.04 131 333.82 130.06 334.9 128.39 336.4 125.71 338.4 124.11 339.4 122.5 340.17 120.5 340.86 118 341.47 115 341.99 111.5 342.41Z"/>
<path fill="#9b76ff" d="M109 340.91L107 340.95 105.5 340.91 104 340.8 102 340.56 100 340.21 98.5 339.87 97 339.46 95.5 338.95 94.5 338.54 93.5 338.02 92 336.95 90.5 335.7 89.65 334.9 88.74 333.9 88.02 332.9 87.43 331.9 86.75 330.4 86.38 329.4 85.97 327.9 85.68 326.4 85.58 325.4 85.55 324.4 85.63 322.9 85.82 321.4 86.23 319.4 86.87 316.9 87.51 314.9 88.13 313.4 88.68 312.4 89 311.94 89.5 311.41 90 311.07 90.5 310.84 91.5 310.66 94 310.56 96.5 310.2 97.5 310.21 98.5 310.47 102 311.68 106.5 312.82 108 313.3 115 316.1 118.5 317.82 121 319.18 122.97 320.4 124.28 321.4 125.31 322.4 126.48 323.9 127.32 325.4 127.73 326.4 128.04 327.4 128.26 328.9 128.19 330.4 127.82 331.9 127.35 332.9 126.26 334.4 124.82 335.9 123.7 336.9 122.36 337.9 121 338.66 119.5 339.24 117.5 339.76 114.5 340.32 111.5 340.71 109 340.91Z"/>
<path fill="#7c5fff" d="M112 338.93L108.5 339.25 107 339.29 105.5 339.24 104 339.11 102 338.83 99 338.18 97.5 337.71 96 337.11 94 336.06 93 335.41 92 334.64 91.16 333.9 90.5 333.21 89.5 331.87 89 330.95 88.5 329.8 88.05 328.4 87.84 327.4 87.62 325.9 87.59 324.9 87.74 323.4 88.01 321.9 89.05 318.4 89.63 316.9 90.1 315.9 90.74 314.9 91.22 314.4 91.5 314.19 92 313.97 92.5 313.88 93 313.9 94 314.1 96.5 314.95 97.5 315.14 98.21 315.4 99.5 315.7 99.92 315.9 101 316.16 101.55 316.4 102.5 316.63 103.18 316.9 104.5 317.23 105 317.44 106 317.62 107 317.92 109 318.19 111.5 318.63 113.5 319.21 115 319.72 117.5 320.7 119.5 321.67 121 322.65 121.82 323.4 122.26 323.9 122.95 324.9 123.66 326.4 124.08 327.9 124.19 328.9 124.11 330.4 123.86 331.4 123.2 332.9 122.59 333.9 121.87 334.9 120.97 335.9 120 336.72 118.86 337.4 117.54 337.9 116 338.27 112 338.93Z"/>
<path fill="#5d47ff" d="M108.5 337.41L106 337.49 103.5 337.3 101 336.89 98.5 336.2 96.6 335.4 94.88 334.4 93.5 333.34 92.56 332.4 92.16 331.9 91.28 330.4 90.86 329.4 90.56 328.4 90.34 327.4 90.21 326.4 90.22 324.9 90.35 323.9 90.69 322.4 91.66 319.4 92.09 318.4 92.5 317.64 93 316.97 93.5 316.58 94 316.39 94.5 316.36 95 316.43 97.5 317.21 99.5 317.76 105 319.41 106.5 319.75 110 320.33 111.5 320.74 114.7 321.9 116.83 322.9 117.63 323.4 118.26 323.9 119.18 324.9 119.8 325.9 120.22 326.9 120.58 328.4 120.63 329.4 120.5 330.4 120.17 331.4 119.37 332.9 118.5 334.07 117.71 334.9 117.09 335.4 116.24 335.9 115.5 336.2 114.5 336.5 112.5 336.89 110.5 337.2 108.5 337.41Z"/>
<path fill="#3e2fff" d="M109 335.46L107 335.65 105 335.68 102.5 335.42 100.5 335 98.71 334.4 97 333.53 95.5 332.45 94.5 331.42 93.83 330.4 93.21 328.9 92.86 327.4 92.79 325.9 93 324.38 93.72 321.9 94.32 320.4 94.6 319.9 95 319.35 95.5 318.97 96 318.84 96.5 318.87 104.5 321.24 106 321.58 108.5 321.99 109.5 322.24 112 323.12 113.75 323.9 114.6 324.4 115.23 324.9 115.71 325.4 116.09 325.9 116.61 326.9 116.93 327.9 117.06 328.9 116.99 329.9 116.86 330.4 116.43 331.4 116 332.12 115.42 332.9 114.97 333.4 114.41 333.9 113.61 334.4 113 334.65 112 334.94 109 335.46Z"/>
<path fill="#1f18ff" d="M109 333.43L106.5 333.79 105.5 333.85 104 333.82 102.5 333.6 101 333.3 99.83 332.9 98.5 332.21 97.4 331.4 96.5 330.42 96.19 329.9 95.62 328.4 95.45 327.4 95.5 325.96 95.74 324.9 96.03 323.9 96.5 322.67 97 321.83 97.5 321.44 98 321.37 98.5 321.46 99.5 321.81 104.5 323.27 107.85 323.9 109.31 324.4 110.52 324.9 111.46 325.4 112.1 325.9 112.55 326.4 112.88 326.9 113.28 327.9 113.42 328.9 113.39 329.4 113.28 329.9 113.08 330.4 112.5 331.41 111.6 332.4 110.86 332.9 110 333.2 109 333.43Z"/>
<path fill="#0000ff" d="M106.5 330.91L104.5 331.21 103 331.15 102 330.95 101.5 330.78 100.74 330.4 100.08 329.9 99.68 329.4 99.44 328.9 99.21 327.9 99.23 327.4 99.47 326.4 99.64 325.9 100 325.23 100.5 325 103.5 325.86 105.5 326.28 107 326.87 107.5 327.22 107.7 327.4 108.01 327.9 108.18 328.4 108.21 328.9 108.09 329.4 107.82 329.9 107.41 330.4 107 330.69 106.5 330.91Z"/>
</g>
<path d="M100 328.6h6M103 325.6v6" stroke="#000050" stroke-width="1.4" filter="url(#bm)"/>
<path fill="none" stroke="#111" stroke-width="1.1" d="M114.5 287.37L116.5 288.45 119.06 290.4 130.5 301.64 135 306.28 139 310.67 142.5 314.74 145.5 318.54 147.2 320.9 148.44 322.9 149.4 324.9 149.93 326.4 150.25 327.9 150.34 329.9 150.04 332.4 149.64 333.9 148.92 335.4 147.7 336.9 146.5 337.91 144.21 339.4 132 345.59 128.78 346.9 125.5 347.88 121 348.78 116 349.46 112 349.82 107 350.02 103.5 349.94 99.5 349.57 96 349.03 92 348.18 87.74 346.9 86.5 346.32 85.5 345.63 84.5 344.58 83 342.32 79.86 338.4 78.15 335.4 76.36 330.9 75.27 326.9 74.72 322.9 74.58 317.4 74.97 310.9 75.83 304.9 77.13 299.4 78 296.69 79.26 293.4 82 287.54 84.5 283.39 86 281.5 87 280.58M119.5 321.55L121.47 322.9 122.8 324.4 123.82 326.4 124.24 327.9 124.35 328.9 124.16 330.9 123.36 332.9 122.03 334.9 120.5 336.48 119 337.44 117 338.12 113 338.87 109.5 339.26 106.5 339.36 104 339.18 101 338.72 98.5 338.11 97 337.61 95 336.72 93 335.5 91.5 334.33 90.5 333.34 89.43 331.9 88.5 330.04 87.96 328.4 87.57 326.4 87.49 324.9 87.63 323.4 88.02 321.4 89 318.21 90 315.84 91 314.42 91.5 314.03 92 313.84"/>
</g>
<text x="0" y="0" transform="translate(100.5 284.5) rotate(14)" text-anchor="middle" dy="3.4" font-size="9.6" fill="#101030" class="lab" font-family='"Liberation Sans", sans-serif'>95%</text>
<text x="0" y="0" transform="translate(105.9 317.8) rotate(12)" text-anchor="middle" dy="3.4" font-size="9.6" fill="#101030" class="lab" font-family='"Liberation Sans", sans-serif'>50%</text>
<rect x="39.5" y="223.4" width="140" height="147.1" fill="none" stroke="#151515" stroke-width="1.15"/>
<text x="44.3" y="390.2" text-anchor="middle" font-size="9" fill="#222" font-family='"Liberation Sans", sans-serif'>0.00</text>
<text x="80.4" y="390.2" text-anchor="middle" font-size="9" fill="#222" font-family='"Liberation Sans", sans-serif'>0.05</text>
<text x="116.5" y="390.2" text-anchor="middle" font-size="9" fill="#222" font-family='"Liberation Sans", sans-serif'>0.10</text>
<text x="152.6" y="390.2" text-anchor="middle" font-size="9" fill="#222" font-family='"Liberation Sans", sans-serif'>0.15</text>
<text x="0" y="0" transform="translate(25.6 365.1) rotate(-90)" text-anchor="middle" font-size="9" fill="#222" font-family='"Liberation Sans", sans-serif'>0</text>
<text x="0" y="0" transform="translate(25.6 342.33) rotate(-90)" text-anchor="middle" font-size="9" fill="#222" font-family='"Liberation Sans", sans-serif'>1</text>
<text x="0" y="0" transform="translate(25.6 319.56) rotate(-90)" text-anchor="middle" font-size="9" fill="#222" font-family='"Liberation Sans", sans-serif'>2</text>
<text x="0" y="0" transform="translate(25.6 296.79) rotate(-90)" text-anchor="middle" font-size="9" fill="#222" font-family='"Liberation Sans", sans-serif'>3</text>
<text x="0" y="0" transform="translate(25.6 274.02) rotate(-90)" text-anchor="middle" font-size="9" fill="#222" font-family='"Liberation Sans", sans-serif'>4</text>
<text x="0" y="0" transform="translate(25.6 251.25) rotate(-90)" text-anchor="middle" font-size="9" fill="#222" font-family='"Liberation Sans", sans-serif'>5</text>
<text x="0" y="0" transform="translate(25.6 228.48) rotate(-90)" text-anchor="middle" font-size="9" fill="#222" font-family='"Liberation Sans", sans-serif'>6</text>
<path fill="none" stroke="#222" stroke-width="1.1" d="M44.3 370.5v5.5M80.4 370.5v5.5M116.5 370.5v5.5M152.6 370.5v5.5M39.5 365.1h-6M39.5 342.33h-6M39.5 319.56h-6M39.5 296.79h-6M39.5 274.02h-6M39.5 251.25h-6M39.5 228.48h-6"/>
<text x="109" y="215.7" text-anchor="middle" font-size="11.2" font-weight="bold" fill="#111" font-family='"Liberation Sans", sans-serif'>SCZ MiD de novo</text>
<g clip-path="url(#c3)">
<g filter="url(#bl)">
<path fill="#f0e8ff" d="M291 357.45L287.5 357.75 284.5 357.85 281 357.83 278 357.67 275 357.32 272.5 356.83 270 356.11 268.5 355.45 267.7 354.9 267.15 354.4 264.95 351.9 260 347.52 259 346.49 258.1 345.4 256.75 343.4 255.69 341.4 254.59 338.9 253.9 336.9 253.17 333.9 252.56 329.9 252.24 325.9 252.17 321.4 252.37 316.9 252.9 311.4 253.57 306.4 254.38 301.9 255.44 297.4 257.44 289.9 258.5 285.21 259 283.53 259.5 282.33 260 281.45 260.81 280.4 261.5 279.66 262.5 278.79 263.5 278.09 264.5 277.53 265.5 277.09 266.5 276.74 267.5 276.5 269 276.26 270.5 276.15 272 276.19 273.5 276.36 275 276.69 276 277 277.5 277.6 279 278.38 280 278.99 281.5 280 283 281.11 286.5 283.98 290.5 287.63 292.5 289.67 294.51 291.9 297 294.87 300.21 298.9 303.57 303.4 311 313.83 317.14 321.9 318.86 324.4 320.98 327.9 321.99 329.9 322.76 331.9 323.27 333.9 323.6 336.4 323.62 338.4 323.52 339.4 323.32 340.4 323.01 341.4 322.57 342.4 321.65 343.9 320.37 345.4 319 346.63 317.19 347.9 316.28 348.4 315.21 348.9 313 349.74 307.91 351.4 305.5 352.28 303.5 353.17 299.5 355.09 297.5 355.93 296 356.46 294.5 356.86 293 357.16 291 357.45Z"/>
<path fill="#e0d2ff" d="M291 354.42L288.5 354.68 285 354.84 281.5 354.83 278.5 354.7 276 354.43 273.5 354 271.5 353.48 269.94 352.9 269.08 352.4 268.5 351.93 266.58 349.9 262 346.09 261 345.14 260 344.05 258.76 342.4 257.56 340.4 256.59 338.4 255.84 336.4 255.42 334.9 255.1 333.4 254.6 329.9 254.34 326.4 254.28 322.4 254.45 318.4 254.95 312.9 255.53 308.4 256.34 303.9 257.42 299.4 259.1 293.4 260.1 289.4 260.5 288.09 261 286.84 261.5 285.94 262 285.25 262.77 284.4 263.5 283.72 264.5 282.98 265.5 282.38 266.5 281.91 267.5 281.55 268.5 281.29 270 281.04 271 280.95 272.5 280.95 274 281.11 275 281.3 276.5 281.73 277.5 282.11 278.5 282.57 280 283.4 281.5 284.35 283 285.4 286.5 288.16 290 291.27 292.5 293.86 295 296.75 298.71 301.4 301.67 305.4 307.98 314.4 313.13 321.4 314.87 323.9 316.4 326.4 317.52 328.4 318.24 329.9 318.81 331.4 319.32 333.4 319.59 335.4 319.62 337.4 319.53 338.4 319.34 339.4 318.83 340.9 318 342.41 316.83 343.9 315.21 345.4 314 346.28 312.96 346.9 311.5 347.59 310 348.18 303 350.44 301 351.21 297.5 352.67 295.5 353.41 293.5 353.98 291 354.42Z"/>
<path fill="#d1bbff" d="M291 351.41L288.5 351.7 285.5 351.84 282.5 351.85 279 351.72 276.5 351.48 274.5 351.15 272.5 350.68 271 350.15 270.5 349.89 269.8 349.4 268 347.71 264 344.63 263 343.78 262 342.81 260.79 341.4 259.5 339.53 258.5 337.69 257.78 335.9 257.48 334.9 257.13 333.4 256.68 330.4 256.43 326.9 256.39 323.4 256.57 319.4 257 314.39 257.57 309.9 258.3 305.9 259.41 301.4 261.6 293.9 262.07 292.4 262.73 290.9 263.5 289.74 264 289.17 265 288.25 266.5 287.23 267.5 286.73 268.5 286.35 269.5 286.08 271 285.82 272.5 285.72 273.5 285.75 275 285.93 276 286.15 278 286.81 279 287.27 280.5 288.08 283.5 290.02 286.5 292.29 288 293.54 289.5 294.9 292 297.51 294.45 300.4 297.58 304.4 300.47 308.4 311.23 323.9 312.15 325.4 313.54 327.9 314.27 329.4 314.86 330.9 315.38 332.9 315.62 334.9 315.6 336.9 315.37 338.4 314.86 339.9 314.03 341.4 313 342.7 311.76 343.9 310.5 344.87 309.5 345.48 308 346.2 306.25 346.9 304 347.63 299.48 348.9 294 350.73 292.5 351.12 291 351.41Z"/>
<path fill="#c2a4ff" d="M291 348.42L289 348.71 286.5 348.86 284 348.89 280 348.77 277.5 348.58 275.5 348.3 273.5 347.87 272 347.38 271 346.8 269.5 345.57 265.5 342.77 264.5 341.98 263.5 341.08 262.4 339.9 261.25 338.4 260.5 337.16 259.9 335.9 259.55 334.9 259.27 333.9 258.83 331.4 258.56 328.4 258.49 325.4 258.59 321.9 259 316.4 259.46 312.4 260.05 308.9 260.6 306.4 261.5 303.16 263.37 297.4 264 295.8 264.5 294.89 264.86 294.4 266 293.19 267.5 292.1 269 291.34 270 291 271 290.76 272.5 290.54 273.5 290.5 274.5 290.54 275.5 290.66 277 290.99 278 291.31 279 291.71 280.5 292.43 283 293.88 286 295.97 287.5 297.16 288.5 298.05 290.5 300.05 292.96 302.9 295.69 306.4 298.57 310.4 307.63 323.9 309.35 326.9 310.1 328.4 310.74 329.9 311.23 331.4 311.59 333.4 311.65 335.4 311.5 336.9 311.09 338.4 310.36 339.9 309.5 341.12 308.29 342.4 307.07 343.4 306 344.09 304.5 344.84 303 345.45 300.5 346.19 297.22 346.9 293 348 291 348.42Z"/>
<path fill="#b38dff" d="M288 345.91L286.5 345.97 284 345.96 278.5 345.66 275.5 345.26 274 344.94 273 344.62 272.5 344.39 270.99 343.4 267.5 341.3 266 340.27 265 339.46 263.9 338.4 262.69 336.9 262.09 335.9 261.5 334.49 261.09 332.9 260.75 330.4 260.61 327.9 260.62 324.9 260.83 320.9 261.25 315.9 261.73 312.4 262.33 309.4 263 306.9 264 303.91 265 301.29 265.5 300.19 265.96 299.4 266.5 298.68 267 298.15 268 297.31 269 296.67 270.5 295.97 271.5 295.65 272.5 295.44 273.5 295.31 274.5 295.28 276.5 295.47 278.5 295.97 279.5 296.33 281 296.99 283.5 298.33 286 299.99 288 301.65 290 303.69 292 306.06 294.5 309.35 297.34 313.4 302.21 320.9 304.37 324.4 305.22 325.9 305.96 327.4 307.01 329.9 307.44 331.4 307.66 332.9 307.7 333.9 307.66 334.9 307.43 336.4 306.92 337.9 306.06 339.4 305.27 340.4 304 341.64 303.01 342.4 301.5 343.27 300.05 343.9 299 344.23 297.5 344.56 294.5 344.99 291.5 345.5 288 345.91Z"/>
<path fill="#9b76ff" d="M293.5 342.91L288.5 343.19 285 343.15 278 342.59 276 342.32 274.5 342.02 273.5 341.69 271 340.55 269 339.52 267.5 338.66 266.5 337.97 265.5 337.14 264.79 336.4 264 335.28 263.39 333.9 263.02 332.4 262.78 330.4 262.7 328.4 262.77 324.9 263.1 319.4 263.39 316.4 263.86 313.4 264.43 310.9 265.05 308.9 265.81 306.9 266.76 304.9 267.5 303.71 268.22 302.9 269.43 301.9 270.5 301.24 272 300.59 273 300.31 274 300.13 275.5 300.04 277.5 300.24 279.5 300.72 282 301.65 284 302.65 286 303.95 287.5 305.23 289 306.77 290.5 308.55 292.29 310.9 294.41 313.9 296.39 316.9 298.56 320.4 300.61 323.9 301.67 325.9 302.37 327.4 303.14 329.4 303.55 330.9 303.75 332.4 303.73 333.9 303.48 335.4 303.16 336.4 302.4 337.9 301.5 339.14 300.29 340.4 299 341.39 298 341.97 296.5 342.53 295 342.81 293.5 342.91Z"/>
<path fill="#7c5fff" d="M293.5 340.96L292.5 341.06 291.5 341.07 286 340.74 281.5 340.15 280 339.86 277 339.59 274 339.09 272.5 338.66 271 338.08 270 337.67 268.5 336.94 267.62 336.4 267 335.92 266.47 335.4 266 334.8 265.5 333.9 265.06 332.4 264.88 330.9 264.81 329.4 264.86 326.4 265.17 320.9 265.38 318.4 265.65 316.4 266.04 314.4 266.5 312.75 267 311.34 267.67 309.9 268.28 308.9 269 308 270 307.08 271 306.37 272 305.81 273.5 305.2 275 304.87 276.5 304.78 278 304.86 280 305.18 281.5 305.57 282.5 305.91 283.62 306.4 284.54 306.9 285.95 307.9 287 308.86 288 309.9 289 311.09 290.38 312.9 293.46 317.4 295 319.9 296.43 322.4 297.48 324.4 298.43 326.4 299.02 327.9 299.49 329.4 299.81 330.9 299.89 331.9 299.8 333.4 299.43 334.9 298.75 336.4 298.13 337.4 296.91 338.9 295.82 339.9 295.08 340.4 294.5 340.67 293.5 340.96Z"/>
<path fill="#5d47ff" d="M290 339.42L286.5 339.28 285 339.15 279.5 338.39 276.5 338.04 274.5 337.67 273.5 337.38 272 336.79 270.06 335.9 269.29 335.4 268.71 334.9 268.27 334.4 267.94 333.9 267.52 332.9 267.3 331.9 267.19 330.9 267.13 329.4 267.18 327.4 267.49 321.9 267.7 319.9 268 318.02 268.25 316.9 268.71 315.4 269.09 314.4 269.58 313.4 270 312.71 270.65 311.9 271.5 311.13 272.5 310.44 273.56 309.9 275 309.43 276 309.27 277.5 309.26 279 309.43 280.5 309.74 282 310.24 283.38 310.9 284 311.29 285 312.07 286 313.03 287 314.16 288 315.43 289.5 317.53 290.76 319.4 292.01 321.4 293.17 323.4 294.24 325.4 294.96 326.9 295.57 328.4 296.04 329.9 296.25 330.9 296.33 331.9 296.27 332.9 295.9 334.4 295.45 335.4 294.5 336.86 293.57 337.9 293 338.41 292 339.03 291 339.33 290 339.42Z"/>
<path fill="#3e2fff" d="M289 337.58L288.5 337.7 287.5 337.78 284.5 337.64 277 336.68 275.5 336.42 274.5 336.13 273.5 335.74 272.5 335.32 271.69 334.9 270.98 334.4 270.48 333.9 270.13 333.4 269.89 332.9 269.63 331.9 269.51 330.9 269.47 329.4 269.75 323.9 269.9 322.4 270.13 320.9 270.63 318.9 271 317.89 271.49 316.9 272 316.14 272.5 315.6 273.5 314.82 274.23 314.4 275 314.07 276 313.8 277 313.7 278 313.73 279.5 313.95 280.5 314.2 281.5 314.56 282.5 315.06 283 315.38 283.66 315.9 284.5 316.7 286 318.48 287.72 320.9 289.91 324.4 291.5 327.4 292.31 329.4 292.59 330.4 292.75 331.4 292.74 332.4 292.55 333.4 292.38 333.9 291.88 334.9 291.17 335.9 290.5 336.62 289.5 337.38 289 337.58Z"/>
<path fill="#1f18ff" d="M286.5 335.9L285.5 336.06 283 335.98 282 335.89 280 335.58 277 335.2 275.66 334.9 274.39 334.4 273.41 333.9 272.78 333.4 272.5 333.06 272.14 332.4 272 331.9 271.9 330.9 271.91 328.9 272.15 324.9 272.5 322.88 273 321.35 273.5 320.39 274 319.77 274.5 319.33 275.5 318.72 276.39 318.4 277 318.29 278.5 318.32 280 318.62 281 319 281.5 319.26 282.39 319.9 283.5 321.04 284.5 322.33 286 324.52 287.5 327.07 288.5 329.13 288.79 329.9 289.04 330.9 289.11 331.9 289.05 332.4 288.76 333.4 288.5 333.91 287.78 334.9 287.28 335.4 286.5 335.9Z"/>
<path fill="#0000ff" d="M282.5 333.6L282 333.68 281 333.66 278 333.29 277.5 333.19 276.66 332.9 275.79 332.4 275.44 331.9 275.32 331.4 275.28 330.4 275.4 328.4 275.53 327.4 275.83 326.4 276.07 325.9 276.5 325.39 277 325.06 277.5 324.86 278 324.78 279 324.87 280 325.22 280.5 325.56 281 326.05 281.5 326.68 282.34 327.9 283.21 329.4 283.67 330.4 283.91 331.4 283.87 331.9 283.71 332.4 283.5 332.75 282.92 333.4 282.5 333.6Z"/>
</g>
<path d="M276.3 331.2h6M279.3 328.2v6" stroke="#000050" stroke-width="1.4" filter="url(#bm)"/>
<path fill="none" stroke="#111" stroke-width="1.1" d="M289.2 290.4L291.68 291.9 294.21 293.9 296.83 296.4 302.2 301.9 306.68 306.9 311.73 312.9 315.32 317.4 318.65 321.9 322.47 327.9 323.5 329.9 324.28 331.9 324.9 334.4 325.22 336.9 325.21 338.9 324.89 340.9 324.1 342.9 322.79 344.9 320.79 346.9 318.5 348.52 315.51 349.9 306.77 352.9 299.5 356.43 296.5 357.59 294 358.21 291 358.66 288 358.92 284 359.06 280.5 359.02 277 358.79 274 358.36 271.5 357.81 268.77 356.9 267.16 355.9 264.5 352.89 259 347.88 257 345.47 255.22 342.4 253.54 338.4 252.56 334.9 251.81 330.4 251.47 326.9 251.33 323.4 251.35 319.9 251.54 316.4 252.01 311.4 252.59 306.9 254.13 298.4 255.73 291.9 258.12 284.9 258.69 283.9 259.5 283.06 260.5 282.55 262 282.35M266.5 335.55L265.65 334.4 265.08 332.9 264.78 330.9 264.72 327.9 265.1 320.4 265.47 316.9 266.05 313.9 267.05 310.9 268 309.06 269 307.77 270.5 306.51 272.48 305.4 274 304.89 275.5 304.67 277 304.66 279.5 304.9 281.53 305.4 284 306.41 286.14 307.9 288.5 310.29 290.54 312.9 294 318.01 296.58 322.4 298.78 326.9 299.64 329.4 299.95 330.9 300.04 332.4 299.75 334.4 298.92 336.4 297.52 338.4 296.01 339.9 294.5 340.78"/>
</g>
<text x="0" y="0" transform="translate(275.5 286.6) rotate(14)" text-anchor="middle" dy="3.4" font-size="9.6" fill="#101030" class="lab" font-family='"Liberation Sans", sans-serif'>95%</text>
<text x="0" y="0" transform="translate(280.6 337.9) rotate(10)" text-anchor="middle" dy="3.4" font-size="9.6" fill="#101030" class="lab" font-family='"Liberation Sans", sans-serif'>50%</text>
<rect x="215.5" y="223.4" width="140.5" height="147.1" fill="none" stroke="#151515" stroke-width="1.15"/>
<text x="220.5" y="390.2" text-anchor="middle" font-size="9" fill="#222" font-family='"Liberation Sans", sans-serif'>0.00</text>
<text x="256.83" y="390.2" text-anchor="middle" font-size="9" fill="#222" font-family='"Liberation Sans", sans-serif'>0.05</text>
<text x="293.16" y="390.2" text-anchor="middle" font-size="9" fill="#222" font-family='"Liberation Sans", sans-serif'>0.10</text>
<text x="329.49" y="390.2" text-anchor="middle" font-size="9" fill="#222" font-family='"Liberation Sans", sans-serif'>0.15</text>
<text x="0" y="0" transform="translate(201.6 365.4) rotate(-90)" text-anchor="middle" font-size="9" fill="#222" font-family='"Liberation Sans", sans-serif'>0</text>
<text x="0" y="0" transform="translate(201.6 340.24) rotate(-90)" text-anchor="middle" font-size="9" fill="#222" font-family='"Liberation Sans", sans-serif'>2</text>
<text x="0" y="0" transform="translate(201.6 315.08) rotate(-90)" text-anchor="middle" font-size="9" fill="#222" font-family='"Liberation Sans", sans-serif'>4</text>
<text x="0" y="0" transform="translate(201.6 289.92) rotate(-90)" text-anchor="middle" font-size="9" fill="#222" font-family='"Liberation Sans", sans-serif'>6</text>
<text x="0" y="0" transform="translate(201.6 264.76) rotate(-90)" text-anchor="middle" font-size="9" fill="#222" font-family='"Liberation Sans", sans-serif'>8</text>
<text x="0" y="0" transform="translate(201.6 239.6) rotate(-90)" text-anchor="middle" font-size="9" fill="#222" font-family='"Liberation Sans", sans-serif'>10</text>
<path fill="none" stroke="#222" stroke-width="1.1" d="M220.5 370.5v5.5M256.83 370.5v5.5M293.16 370.5v5.5M329.49 370.5v5.5M215.5 365.4h-6M215.5 340.24h-6M215.5 315.08h-6M215.5 289.92h-6M215.5 264.76h-6M215.5 239.6h-6"/>
<text x="284.6" y="209.5" text-anchor="middle" font-size="11.2" font-weight="bold" fill="#111" font-family='"Liberation Sans", sans-serif'>SCZ MiD+LoF case control</text>
<text x="287.6" y="221.6" text-anchor="middle" font-size="11.2" font-weight="bold" fill="#111" font-family='"Liberation Sans", sans-serif'>(Pop 2)</text>
<g clip-path="url(#c4)">
<g filter="url(#bl)">
<path fill="#f0e8ff" d="M128 550.53L123.5 550.75 119 550.71 115 550.46 111 549.97 107.5 549.35 104 548.49 100 547.18 97 545.96 95 544.95 93 543.68 92 542.91 91 542.03 89.53 540.5 88 538.58 86.5 536.39 85 533.95 82.76 530 80.69 526 78.9 522 77.62 518.5 77.03 516.5 76.67 515 76.07 511.5 75.71 508 75.34 501.5 75.26 496.5 75.46 491.5 75.69 489 76.01 486.5 76.5 483.55 77 481.11 77.51 479 78.21 476.5 79 474.23 79.5 473.17 80 472.37 80.5 471.77 81 471.3 82.5 470.14 83.5 469.52 84.5 469.07 85.5 468.74 86.7 468.5 88 468.4 89 468.44 90.5 468.68 92 469.09 93.5 469.62 96 470.75 97.5 471.59 99 472.54 102.5 475.07 106.5 478.26 108.5 479.96 110 481.33 114.5 485.98 122.76 494 125.69 497 129.41 501 134.23 506.5 138.64 512 141.63 516 142.62 517.5 143.52 519 144.77 521.5 145.96 524.5 146.43 526 146.82 527.5 147.24 530 147.34 531.5 147.33 532.5 147.2 534 147.05 535 146.7 536.5 146.39 537.5 145.55 539.5 145.02 540.5 144.35 541.5 143.51 542.5 142.51 543.5 141.34 544.5 140.04 545.5 135.68 548.5 134.79 549 134 549.36 132.5 549.85 130.5 550.25 128 550.53Z"/>
<path fill="#e0d2ff" d="M126 548L122 548.3 118 548.37 114.5 548.23 111 547.88 107.5 547.27 104.5 546.54 101 545.41 98 544.24 96 543.28 94 542.06 92.5 540.93 91 539.52 89.5 537.79 88 535.73 86.5 533.4 84.51 530 82.5 526.19 80.81 522.5 79.67 519.5 79.05 517.5 78.67 516 78.11 513 77.72 509.5 77.39 503.5 77.31 499 77.47 494.5 77.86 490.5 78.17 488.5 78.56 486.5 79 484.73 79.5 483.08 80.07 481.5 80.92 479.5 81.5 478.36 82 477.58 82.5 476.97 83 476.51 85 475.2 86 474.74 87 474.42 88 474.22 89 474.12 90 474.12 91 474.23 92 474.43 93.5 474.88 96 475.89 98.5 477.24 101.5 479.27 105.5 482.33 109 485.26 113.3 489.5 121 496.61 124.98 500.5 128.37 504 131.5 507.51 134.31 511 137.63 515.5 139.54 518.5 140.8 521 141.96 524 142.66 526.5 143.08 529 143.16 531 143.06 532.5 142.92 533.5 142.43 535.5 141.66 537.5 141.16 538.5 140.52 539.5 139.72 540.5 138.74 541.5 136.5 543.39 133 545.92 131.5 546.74 130 547.28 128 547.72 126 548Z"/>
<path fill="#d1bbff" d="M117.5 546.01L114.5 546.01 111.5 545.82 109 545.48 106 544.86 103 543.99 99.5 542.72 97 541.59 95.09 540.5 93.5 539.36 92 538.01 90.64 536.5 89.5 535.03 88 532.82 86.29 530 84.63 527 83.39 524.5 82.1 521.5 81.22 519 80.55 516.5 80.01 513.5 79.61 509.5 79.38 504 79.38 499.5 79.58 496 79.91 493 80.48 490 81.05 488 81.88 486 82.5 484.87 83.5 483.31 84.5 482.08 85 481.65 85.5 481.32 87 480.56 88 480.19 89 479.95 90 479.83 91 479.8 92 479.88 93 480.06 94 480.33 95.5 480.87 97.5 481.77 100 483.22 103 485.32 107 488.39 109 490.1 112.07 493 119 498.99 121.5 501.23 125 504.53 127.41 507 130.01 510 132.63 513.5 134.97 517 135.85 518.5 136.61 520 137.62 522.5 138.38 525 138.86 527.5 139 529.5 138.92 531 138.79 532 138.32 534 137.54 536 137.02 537 136.5 537.78 135.93 538.5 135.01 539.5 133.35 541 130.08 543.5 129.24 544 128.5 544.36 127.5 544.72 126.5 545 124 545.47 121 545.81 117.5 546.01Z"/>
<path fill="#c2a4ff" d="M117.5 543.55L114.5 543.72 112 543.69 110 543.53 107.5 543.13 105 542.52 102.5 541.72 99.5 540.57 97 539.38 95.5 538.49 94 537.38 92.5 536 91.5 534.89 90.41 533.5 89 531.45 87.49 529 86.1 526.5 84.86 524 83.61 521 82.8 518.5 82.21 516 81.78 513 81.55 510 81.4 505 81.43 501.5 81.61 498.5 81.96 495.5 82.48 493 83 491.38 83.5 490.32 84 489.54 84.5 488.93 86 487.45 87 486.68 87.5 486.41 89.5 485.72 91 485.48 92.5 485.47 93.5 485.59 94.5 485.8 96.5 486.49 98.5 487.4 101 488.88 103.5 490.62 107.5 493.61 110.84 496.5 118.5 502.61 122 505.56 124.11 507.5 126.02 509.5 128.05 512 130.42 515.5 132.16 518.5 133.09 520.5 133.96 523 134.55 525.5 134.8 527.5 134.77 529.5 134.47 531.5 133.86 533.5 133.43 534.5 133 535.3 132 536.7 130.5 538.3 128 540.45 126.49 541.5 125 542.16 123 542.73 120.5 543.19 117.5 543.55Z"/>
<path fill="#b38dff" d="M117 541L114.5 541.33 112.5 541.45 110.5 541.43 108.5 541.23 106.5 540.84 104.5 540.29 102.5 539.61 100 538.63 98 537.7 96.5 536.85 95 535.81 94 534.98 93 534 92 532.86 90.97 531.5 89.5 529.32 88.11 527 87.05 525 86.11 523 85.31 521 84.81 519.5 84.29 517.5 83.93 515.5 83.65 513 83.47 509.5 83.44 505 83.55 502 83.85 499 84.32 496.5 84.61 495.5 85 494.5 85.63 493.5 86 493.1 86.5 492.71 88 491.95 89.5 491.37 91 491.09 92.5 490.99 93.5 491.04 94.5 491.18 96 491.54 98 492.31 99.5 493.04 101 493.9 102.5 494.87 106.5 497.61 109.59 500 117 505.25 120 507.51 121.76 509 123.28 510.5 124.56 512 125.97 514 127.45 516.5 128.72 519 129.51 521 130.21 523.5 130.55 525.5 130.64 527.5 130.45 529.5 129.94 531.5 129.56 532.5 129.07 533.5 128.05 535 126.5 536.71 124.48 538.5 123.74 539 123 539.39 121.5 539.98 119.5 540.52 117 541Z"/>
<path fill="#9b76ff" d="M113 539.02L111 539.21 109.5 539.21 108 539.06 106.5 538.78 105 538.37 103 537.69 100.5 536.69 98.5 535.76 97 534.91 96 534.24 95 533.46 94 532.54 93 531.45 92 530.18 91 528.76 89.88 527 89 525.44 88.03 523.5 87.19 521.5 86.67 520 86.26 518.5 85.96 517 85.69 515 85.56 513.5 85.45 510.5 85.46 507 85.6 504 85.87 501.5 86.26 499.5 86.76 498 87.01 497.5 87.38 497 88 496.49 88.5 496.29 89.5 496.15 92 496.14 94 496.33 95.5 496.64 97 497.1 98.5 497.7 100 498.42 102 499.54 106 502 108.5 503.62 115 507.46 118 509.4 119.5 510.56 120.99 512 121.83 513 122.84 514.5 124.15 517 125.23 519.5 125.85 521.5 126.26 523.5 126.46 525.5 126.39 527.5 126.24 528.5 126 529.5 125.49 531 124.71 532.5 123.64 534 122.24 535.5 121 536.5 119.5 537.3 117.57 538 115.5 538.56 113 539.02Z"/>
<path fill="#7c5fff" d="M109 537L108 536.95 106.5 536.71 104.09 536 102 535.18 100 534.3 98.5 533.54 97 532.64 96 531.93 95 531.08 93.5 529.47 92.5 528.17 91.7 527 90.23 524.5 89 521.82 88.23 519.5 87.91 518 87.68 516.5 87.45 513 87.43 511 87.52 508 87.65 506 87.88 504 88.18 502.5 88.5 501.44 89 500.45 89.5 499.97 90 499.75 90.5 499.71 91 499.77 92 500.07 96 501.59 98.5 502.76 104 505.63 105.5 506.35 112 509.2 114.5 510.38 116.43 511.5 117.72 512.5 118.5 513.27 119.1 514 120 515.48 120.84 517.5 121.65 520 122.07 522 122.28 524 122.26 526 122.04 527.5 121.65 529 121 530.59 120.17 532 119.38 533 118.29 534 117 534.82 115 535.74 113 536.4 111 536.84 110 536.97 109 537Z"/>
<path fill="#5d47ff" d="M109.5 534.06L108.5 534.16 107.5 534.15 106.5 534.03 105.5 533.81 104 533.33 102.5 532.74 100.5 531.86 99 531.09 98 530.48 97 529.76 95.64 528.5 94.79 527.5 94.04 526.5 92.77 524.5 91.52 522 90.95 520.5 90.65 519.5 90.44 518.5 90.21 517 90.03 514.5 90.01 512.5 90.09 510 90.23 508 90.42 506.5 90.62 505.5 91 504.29 91.47 503.5 92 503.14 92.5 503.06 93 503.12 94 503.47 97.5 505.06 102 507.45 104 508.45 106.5 509.5 110.5 511.07 112.6 512 114 512.76 115.04 513.5 116.08 514.5 116.8 515.5 117.51 517 118.19 519 118.57 520.5 118.81 522 118.93 523.5 118.89 525 118.64 526.5 118.2 528 117.76 529 117.17 530 116.34 531 115.5 531.72 114.21 532.5 112.5 533.26 111 533.74 109.5 534.06Z"/>
<path fill="#3e2fff" d="M108.5 531.05L107 531.17 106 531.08 105 530.87 104 530.55 102.5 529.96 100 528.78 98.5 527.81 97.5 526.95 96.26 525.5 94.95 523.5 93.95 521.5 93.26 519.5 92.9 517.5 92.76 515.5 92.8 512 92.9 510.5 93.1 509 93.5 507.46 93.74 507 94 506.68 94.31 506.5 94.5 506.43 95 506.44 96 506.78 99 508.15 102.5 510.02 104 510.75 109 512.77 111 513.67 112 514.24 112.99 515 113.5 515.53 114.17 516.5 114.63 517.5 115.29 519.5 115.52 520.5 115.72 522 115.75 523.5 115.65 524.5 115.43 525.5 115.09 526.5 114.59 527.5 114.26 528 113.5 528.84 113 529.24 112 529.85 111 530.31 109.5 530.82 108.5 531.05Z"/>
<path fill="#1f18ff" d="M107.5 528.03L106.5 528.17 105.5 528.14 105 528.05 103.5 527.59 101.06 526.5 100.22 526 99.53 525.5 99 525.03 98.5 524.47 97.43 523 96.5 521.28 96 520 95.68 518.5 95.51 517 95.5 514.41 95.71 512 96 510.65 96.5 509.9 97 509.79 97.78 510 100 511 103 512.61 104 513.08 108.72 515 109.66 515.5 110.34 516 110.85 516.5 111.23 517 111.53 517.5 112.09 519 112.53 521 112.59 522 112.54 523 112.17 524.5 112 524.91 111.5 525.78 111 526.35 110.5 526.76 110 527.09 109.15 527.5 107.5 528.03Z"/>
<path fill="#0000ff" d="M106 523.64L105 523.87 104.5 523.86 103.5 523.6 102.5 523.17 101.5 522.57 101 522.09 100.55 521.5 100 520.56 99.76 520 99.6 519.5 99.44 518.5 99.42 517 99.5 515.84 99.7 515 100 514.64 100.5 514.69 101.5 515.12 103.5 516.16 106 517.2 106.58 517.5 107.17 518 107.5 518.5 107.86 519.5 108.02 520.5 107.97 521.5 107.83 522 107.59 522.5 107.18 523 106.5 523.44 106 523.64Z"/>
</g>
<path d="M100.8 519.7h6M103.8 516.7v6" stroke="#000050" stroke-width="1.4" filter="url(#bm)"/>
<path fill="none" stroke="#111" stroke-width="1.1" d="M102.5 548.87L97.5 547.05 94 545.26 92.5 544.25 91 543.02 89.5 541.51 88.24 540 86.5 537.57 84.6 534.5 81.79 529.5 80.01 526 78.43 522.5 77.27 519.5 76.47 517 75.86 514.5 75.27 511 74.91 507.5 74.53 501 74.44 495.5 74.58 491.5 74.87 488 75.4 484 76.12 480 77.55 474 78.25 472 79 470.55 80 469.38 82 467.78 83.5 466.95 85.5 466.32 87.5 466.11 90 466.4 93 467.33 95.5 468.44 98 469.88 101 471.96 105 475.08 109 478.45 111 480.38 114.9 484.5 124.49 494 131 501.09 136.06 507 140.86 513 143.44 516.5 145.28 519.5 146.5 522 147.66 525 148.5 528 148.91 530.5 149 533 148.8 535 148.23 537.5 147.48 539.5 146.44 541.5 145.31 543 143.5 544.75 141.24 546.5 137 549.38 135.5 550.19 133.5 550.87 131 551.33M116.93 512.5L118.42 514 119.36 515.5 120.81 519.5 121.33 522 121.47 525 121.21 527.5 120.4 530 119.24 532 118.35 533 117.5 533.71 115.5 534.87 112.5 535.99 110 536.5 107.79 536.5 105.5 536.04 103.88 535.5 100.3 534 97.5 532.51 96.05 531.5 94.91 530.5 93.5 528.94 92 526.87 90.5 524.31 89.5 522.18 88.59 519.5 88.06 516.5 87.87 513.5 87.91 509 88.16 505.5 88.5 503.35 89.12 501.5 89.5 500.92 90 500.52 91 500.37"/>
</g>
<text x="0" y="0" transform="translate(116.8 550.4) rotate(5)" text-anchor="middle" dy="3.4" font-size="9.6" fill="#101030" class="lab" font-family='"Liberation Sans", sans-serif'>95%</text>
<text x="0" y="0" transform="translate(103.8 507) rotate(20)" text-anchor="middle" dy="3.4" font-size="9.6" fill="#101030" class="lab" font-family='"Liberation Sans", sans-serif'>50%</text>
<rect x="39.5" y="424" width="140" height="147.1" fill="none" stroke="#151515" stroke-width="1.15"/>
<text x="44.3" y="590.8" text-anchor="middle" font-size="9" fill="#222" font-family='"Liberation Sans", sans-serif'>0.00</text>
<text x="80.4" y="590.8" text-anchor="middle" font-size="9" fill="#222" font-family='"Liberation Sans", sans-serif'>0.05</text>
<text x="116.5" y="590.8" text-anchor="middle" font-size="9" fill="#222" font-family='"Liberation Sans", sans-serif'>0.10</text>
<text x="152.6" y="590.8" text-anchor="middle" font-size="9" fill="#222" font-family='"Liberation Sans", sans-serif'>0.15</text>
<text x="0" y="0" transform="translate(25.6 565.9) rotate(-90)" text-anchor="middle" font-size="9" fill="#222" font-family='"Liberation Sans", sans-serif'>0</text>
<text x="0" y="0" transform="translate(25.6 528.03) rotate(-90)" text-anchor="middle" font-size="9" fill="#222" font-family='"Liberation Sans", sans-serif'>10</text>
<text x="0" y="0" transform="translate(25.6 490.16) rotate(-90)" text-anchor="middle" font-size="9" fill="#222" font-family='"Liberation Sans", sans-serif'>20</text>
<text x="0" y="0" transform="translate(25.6 452.29) rotate(-90)" text-anchor="middle" font-size="9" fill="#222" font-family='"Liberation Sans", sans-serif'>30</text>
<path fill="none" stroke="#222" stroke-width="1.1" d="M44.3 571.1v5.5M80.4 571.1v5.5M116.5 571.1v5.5M152.6 571.1v5.5M39.5 565.9h-6M39.5 528.03h-6M39.5 490.16h-6M39.5 452.29h-6"/>
<text x="109" y="416.2" text-anchor="middle" font-size="11.2" font-weight="bold" fill="#111" font-family='"Liberation Sans", sans-serif'>SCZ LoF de novo</text>
<g clip-path="url(#c5)">
<g filter="url(#bl)">
<path fill="#f0e8ff" d="M289.5 531.52L283 531.66 279.5 531.6 276 531.42 272 531.09 268.5 530.68 265 530.15 262.5 529.64 261 529.16 260 528.58 259.43 528 258.73 527 258.22 526.5 257.4 526 255.5 525.02 255 524.61 254.46 524 253.8 523 253.04 521.5 252.5 520 252.04 518 251.81 516 251.71 513.5 251.8 511 252.06 508.5 252.5 506.15 253.17 503.5 254.08 500.5 255.15 497.5 256.18 495 257.41 492.5 258.5 490.6 260 488.31 261.01 486.5 261.5 485.84 262 485.41 262.5 485.12 263 484.93 264.5 484.63 266 484.58 268.5 484.73 277 485.72 286.5 486.34 290 486.68 292 487 294 487.43 296 487.99 297.5 488.52 299 489.16 301 490.14 302.5 490.97 304 491.9 307.5 494.36 311.5 497.56 315 500.71 317.72 503.5 319 504.98 320.2 506.5 321.29 508 322.26 509.5 323.32 511.5 323.71 512.5 323.97 513.5 324.14 515 324.11 516 323.99 517 323.63 518.5 323.27 519.5 322.77 520.5 322.44 521 321.5 522.05 320.5 522.87 319.6 523.5 317.88 524.5 316.5 525.09 311.5 526.86 306.5 528.74 303 529.83 300 530.5 297 530.93 293 531.31 289.5 531.52Z"/>
<path fill="#e0d2ff" d="M288.5 530.52L285 530.63 281.5 530.65 276 530.43 272.5 530.14 269.5 529.78 266.5 529.32 264 528.81 262.5 528.36 261.5 527.83 261 527.4 260.28 526.5 259.78 526 258.99 525.5 257.11 524.5 256.51 524 256.09 523.5 255.43 522.5 254.68 521 254.18 519.5 253.8 517.5 253.64 515.5 253.65 513.5 253.85 511 254.15 509 254.72 506.5 255.5 503.8 256.46 501 257.46 498.5 258.42 496.5 259 495.47 260 493.91 262 491.3 263 489.81 263.5 489.26 264 488.92 264.5 488.7 265.5 488.46 266.5 488.37 268 488.39 271 488.67 278 489.55 287.5 490.3 290 490.64 292 491.07 294 491.62 296 492.36 299 493.79 302 495.58 305.5 498.04 309.5 501.19 312.5 503.86 315 506.41 317.19 509 318.27 510.5 318.9 511.5 319.6 513 319.75 513.5 319.92 514.5 319.96 515.5 319.9 516.5 319.74 517.5 319.48 518.5 318.88 520 318.23 521 317.26 522 316.5 522.6 315.16 523.5 314.24 524 313.12 524.5 309 526.03 305.29 527.5 303 528.31 300.69 529 298.46 529.5 295.5 529.95 292 530.3 288.5 530.52Z"/>
<path fill="#d1bbff" d="M288 529.5L282.5 529.65 279.5 529.62 276.5 529.48 274 529.28 271 528.95 268.02 528.5 265.5 527.99 264 527.55 262.89 527 262.29 526.5 261.34 525.5 260.58 525 259 524.16 258.5 523.81 257.72 523 257.04 522 256.53 521 256 519.5 255.69 518 255.52 516 255.57 514 255.79 512 256.15 510 256.79 507.5 257.57 505 258.49 502.5 259.36 500.5 260.15 499 261 497.66 262 496.4 264 494.31 265 493.13 265.5 492.72 266 492.46 266.5 492.31 267.5 492.17 269 492.17 271 492.34 278 493.28 285 493.91 287.5 494.22 289 494.48 291 494.95 293.5 495.79 296.5 497.17 299 498.6 302.5 500.91 306 503.48 309 505.95 311.5 508.31 313.52 510.5 314.33 511.5 315 512.5 315.49 513.5 315.64 514 315.78 515 315.77 516 315.67 517 315.33 518.5 314.72 520 314.01 521 312.94 522 311.52 523 310.62 523.5 309.51 524 303.35 526.5 301 527.38 299.01 528 296.91 528.5 294 528.97 291 529.29 288 529.5Z"/>
<path fill="#c2a4ff" d="M287 528.51L282 528.65 279.5 528.62 276.5 528.49 273.5 528.23 271 527.92 268.55 527.5 266.5 527.04 265.5 526.74 264.5 526.3 264 525.98 262.91 525 262.5 524.71 260.37 523.5 259.5 522.69 258.66 521.5 258.17 520.5 257.69 519 257.45 517.5 257.38 516 257.47 514.5 257.79 512.5 258.26 510.5 259.03 508 259.73 506 260.53 504 261.25 502.5 262.13 501 262.89 500 263.5 499.35 264.5 498.47 265.81 497.5 267 496.5 267.5 496.21 268 496.05 269 495.92 270 495.92 272 496.11 278 497 284.5 497.74 286.5 498.03 289 498.59 291.5 499.42 294 500.54 296.5 501.9 300 504.05 303 506.07 306 508.36 308.48 510.5 310 512.01 310.82 513 311.14 513.5 311.39 514 311.54 514.5 311.62 515.5 311.57 516.5 311.43 517.5 311.02 519 310.55 520 309.77 521 309 521.69 307.89 522.5 307.01 523 305.95 523.5 301.37 525.5 299 526.45 297.32 527 295.35 527.5 293 527.92 290 528.28 287 528.51Z"/>
<path fill="#b38dff" d="M286 527.52L283.5 527.63 281 527.65 277 527.53 275 527.38 272.5 527.1 269.16 526.5 267.22 526 265.94 525.5 265.14 525 264 524.16 262.01 523 261.41 522.5 260.96 522 260.5 521.36 260.02 520.5 259.64 519.5 259.4 518.5 259.28 517.5 259.24 516.5 259.3 515.5 259.55 514 259.92 512.5 260.5 510.7 261.5 507.99 262.34 506 263 504.68 263.73 503.5 264.5 502.55 265 502.08 265.5 501.7 266.5 501.12 269 499.9 269.5 499.74 270.5 499.65 271.5 499.7 273 499.88 278.5 500.8 283.5 501.51 285.5 501.86 287.5 502.36 289.5 503.04 292 504.12 295 505.65 298.5 507.6 301.5 509.5 304 511.27 306 512.9 306.99 514 307.28 514.5 307.43 515 307.46 515.5 307.28 517.5 306.88 519 306.37 520 306 520.5 305.5 521.02 304.27 522 302.46 523 299.34 524.5 297.03 525.5 295.5 526.03 293.78 526.5 291.5 526.94 289 527.27 286 527.52Z"/>
<path fill="#9b76ff" d="M285 526.53L281 526.65 277 526.54 273.5 526.2 271 525.77 268.5 525.11 267 524.5 263.64 522.5 263.03 522 262.57 521.5 262.19 521 261.65 520 261.46 519.5 261.22 518.5 261.11 517.5 261.1 516.5 261.34 515 261.62 514 262.16 512.5 264.1 508 264.62 507 265.24 506 266 505.07 266.5 504.63 267.5 504.07 268.5 503.77 271 503.35 272 503.35 275.5 503.91 283 505.38 285.5 505.99 287.5 506.63 289.5 507.39 293.5 509.08 296 510.26 298.5 511.58 301 513.06 302.31 514 302.83 514.5 303.17 515 303.31 515.5 303.3 516 303.13 517.5 302.9 518.5 302.51 519.5 301.8 520.5 301.29 521 299.91 522 296.25 524 294.5 524.76 293 525.27 291.5 525.66 289.5 526.04 287.5 526.31 285 526.53Z"/>
<path fill="#7c5fff" d="M284.5 525.51L281.5 525.65 278 525.61 275 525.36 272.6 525 270.62 524.5 269.14 524 268 523.52 266.5 522.75 265.5 522.15 264.65 521.5 264.16 521 263.51 520 263.14 519 262.94 517.5 262.98 516.5 263.08 516 263.37 515 263.79 514 265.81 510 266.67 508.5 267.5 507.46 268.03 507 268.5 506.72 269 506.54 269.5 506.45 270.5 506.44 272.5 506.74 277 507.83 289.5 511.22 291.5 511.83 295 513.14 297 514.03 297.89 514.5 298.5 514.9 299.07 515.5 299.18 516 298.89 518 298.6 519 298.37 519.5 298.05 520 297.63 520.5 297.09 521 295.78 522 294.18 523 293.23 523.5 292.09 524 291 524.37 289.5 524.77 288 525.08 284.5 525.51Z"/>
<path fill="#5d47ff" d="M285.5 524.06L283 524.31 280 524.4 277 524.29 274.5 524 272.5 523.57 270.5 522.9 268.55 522 267.71 521.5 267.04 521 266.54 520.5 266.17 520 265.72 519 265.6 518.5 265.51 517.5 265.59 516.5 265.89 515.5 266.59 514 268.48 510.5 269.2 509.5 270 508.82 270.5 508.59 270.91 508.5 272 508.5 273 508.69 278 510.06 282.5 511.4 287.5 512.58 289.5 513.14 291.98 514 294 514.84 295.15 515.5 295.5 515.89 295.58 516 295.62 516.5 295.38 518 295.08 519 294.81 519.5 294.43 520 293.32 521 291.88 522 290.98 522.5 289.87 523 288 523.58 285.5 524.06Z"/>
<path fill="#3e2fff" d="M282 523.01L280 523.07 278 523.02 276 522.84 274.5 522.58 273 522.15 271.35 521.5 270 520.75 269.11 520 268.74 519.5 268.5 519 268.36 518.5 268.26 517.5 268.39 516.5 269 515.02 270.34 512.5 270.97 511.5 271.5 510.92 272 510.58 272.5 510.43 273 510.39 274 510.52 278 511.6 282 512.78 286.5 513.86 289 514.68 291.02 515.5 291.87 516 292.23 516.5 292.03 518 291.9 518.5 291.69 519 291.34 519.5 290.84 520 289.51 521 288 521.81 286.5 522.33 284.5 522.75 282 523.01Z"/>
<path fill="#1f18ff" d="M283 521.52L281.5 521.66 279.5 521.71 277.5 521.64 276.26 521.5 274.5 521.05 273.17 520.5 272.28 520 271.7 519.5 271.33 519 271.15 518.5 271.02 517.5 271.09 517 271.5 515.89 272.5 514 273.16 513 273.5 512.67 274 512.38 274.5 512.34 275.5 512.46 281.5 514.2 284.94 515 287.5 515.92 288.59 516.5 288.82 517 288.68 518 288.54 518.5 288.24 519 287.75 519.5 287.12 520 286.31 520.5 285.22 521 283 521.52Z"/>
<path fill="#0000ff" d="M282 519.51L281 519.73 279.5 519.84 278 519.77 277 519.57 276.5 519.4 275.68 519 275.16 518.5 274.99 518 275 517.5 275.17 517 275.99 515.5 276.5 515.13 277 515.12 277.5 515.23 280 515.95 282 516.44 283.51 517 283.95 517.5 283.87 518 283.63 518.5 283.03 519 282 519.51Z"/>
</g>
<path d="M276 517.9h6M279 514.9v6" stroke="#000050" stroke-width="1.4" filter="url(#bm)"/>
<path fill="none" stroke="#111" stroke-width="1.1" d="M292 485.39L295.5 486.16 298.5 487.15 302 488.79 305 490.55 309 493.4 313.36 497 317 500.4 320 503.66 322.18 506.5 324.09 509.5 325.24 512 325.74 514 325.73 516.5 325.12 519 324.12 521 322.71 522.5 320.6 524 318.68 525 307 529.22 304.5 530.01 301.5 530.73 296 531.5 291 531.86 285.5 532.04 280.5 532.02 275.5 531.79 269.5 531.22 264 530.41 261 529.71 259.55 529 259 528.48 257.95 527 257.29 526.5 255 525.31 254.04 524.5 253.04 523 252.3 521.5 251.51 519 251.12 516.5 250.94 513 251.1 509.5 251.62 506 252.78 501.5 254.46 496.5 256 492.85 257.5 489.91 260.5 484.74 261.5 483.81 262.5 483.39 263.5 483.17M296.84 514.5L298 515.27 298.23 515.5 298.38 516 298.08 518 297.82 519 297.56 519.5 296.83 520.5 295.5 521.64 293.42 523 291.5 523.89 289.5 524.51 287.02 525 282 525.43 279.5 525.44 276 525.26 273.77 525 271.48 524.5 268.5 523.46 265.77 522 265 521.41 264.21 520.5 263.69 519.5 263.42 518.5 263.34 517 263.47 516 264.5 513.48 266.35 510 267.29 508.5 268.5 507.33 269.5 506.97"/>
</g>
<text x="0" y="0" transform="translate(277.8 484.5) rotate(5)" text-anchor="middle" dy="3.4" font-size="9.6" fill="#101030" class="lab" font-family='"Liberation Sans", sans-serif'>95%</text>
<text x="0" y="0" transform="translate(283.3 510.2) rotate(10)" text-anchor="middle" dy="3.4" font-size="9.6" fill="#101030" class="lab" font-family='"Liberation Sans", sans-serif'>50%</text>
<rect x="215.5" y="424" width="140.5" height="147.1" fill="none" stroke="#151515" stroke-width="1.15"/>
<text x="220.5" y="590.8" text-anchor="middle" font-size="9" fill="#222" font-family='"Liberation Sans", sans-serif'>0.00</text>
<text x="256.83" y="590.8" text-anchor="middle" font-size="9" fill="#222" font-family='"Liberation Sans", sans-serif'>0.05</text>
<text x="293.16" y="590.8" text-anchor="middle" font-size="9" fill="#222" font-family='"Liberation Sans", sans-serif'>0.10</text>
<text x="329.49" y="590.8" text-anchor="middle" font-size="9" fill="#222" font-family='"Liberation Sans", sans-serif'>0.15</text>
<text x="0" y="0" transform="translate(201.6 566) rotate(-90)" text-anchor="middle" font-size="9" fill="#222" font-family='"Liberation Sans", sans-serif'>0.8</text>
<text x="0" y="0" transform="translate(201.6 526.8) rotate(-90)" text-anchor="middle" font-size="9" fill="#222" font-family='"Liberation Sans", sans-serif'>1.0</text>
<text x="0" y="0" transform="translate(201.6 487.6) rotate(-90)" text-anchor="middle" font-size="9" fill="#222" font-family='"Liberation Sans", sans-serif'>1.2</text>
<text x="0" y="0" transform="translate(201.6 448.4) rotate(-90)" text-anchor="middle" font-size="9" fill="#222" font-family='"Liberation Sans", sans-serif'>1.4</text>
<path fill="none" stroke="#222" stroke-width="1.1" d="M220.5 571.1v5.5M256.83 571.1v5.5M293.16 571.1v5.5M329.49 571.1v5.5M215.5 566h-6M215.5 546.4h-6M215.5 526.8h-6M215.5 507.2h-6M215.5 487.6h-6M215.5 468h-6M215.5 448.4h-6M215.5 428.8h-6"/>
<text x="284.6" y="410" text-anchor="middle" font-size="11.2" font-weight="bold" fill="#111" font-family='"Liberation Sans", sans-serif'>SCZ MiD+LoF case control</text>
<text x="287.6" y="422.1" text-anchor="middle" font-size="11.2" font-weight="bold" fill="#111" font-family='"Liberation Sans", sans-serif'>(Pop 3)</text>
<text x="0" y="0" transform="translate(9.7 302.4) rotate(-90)" text-anchor="middle" font-size="13.6" fill="#111" font-family='"Liberation Sans", sans-serif'><tspan>γ</tspan> (Mean relative risk)</text>
<path d="M1.6 358.4V365" stroke="#111" stroke-width="1"/>
<text x="201.3" y="610.3" text-anchor="middle" font-size="13.6" fill="#111" font-family='"Liberation Sans", sans-serif'>π (Proportion of risk genes)</text>
</svg></body></html>
